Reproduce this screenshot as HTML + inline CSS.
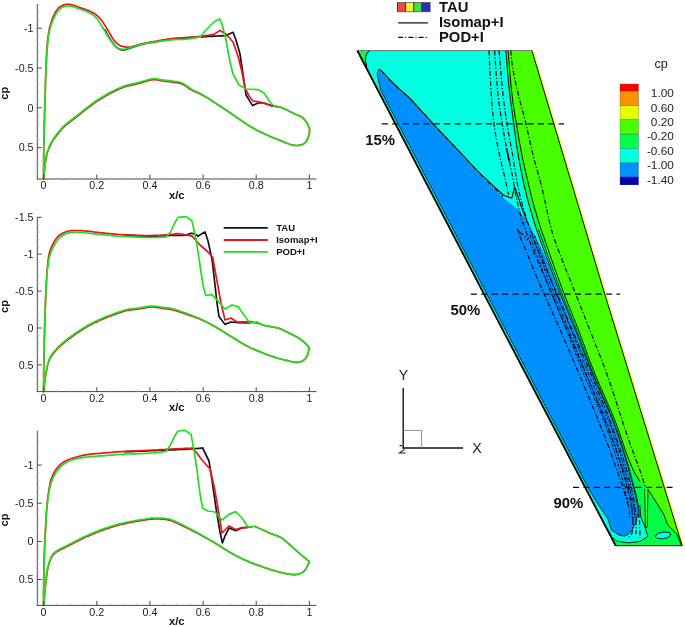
<!DOCTYPE html>
<html><head><meta charset="utf-8"><title>cp</title>
<style>html,body{margin:0;padding:0;background:#fff;}svg{display:block;will-change:transform;}text{font-family:"Liberation Sans",sans-serif;}</style>
</head><body>
<svg width="685" height="627" viewBox="0 0 685 627">
<polyline points="105.0,30.0 105.5,30.8 106.1,32.0 106.8,33.3 107.6,34.8 108.5,36.4 109.4,37.9 110.2,39.3 111.0,40.5 111.8,41.6 112.5,42.6 113.2,43.6 114.0,44.5 114.8,45.4 115.5,46.1 116.2,46.9 117.0,47.5 117.7,48.1 118.5,48.6 119.2,49.0 119.9,49.3 120.6,49.6 121.4,49.8 122.2,49.9 123.0,50.0 123.9,50.0 124.8,49.8 125.7,49.6 126.6,49.3 127.6,48.9 128.7,48.6 129.8,48.2 131.0,47.8 132.3,47.4 133.7,46.9 135.2,46.4 136.8,45.9 138.3,45.4 139.9,44.9 141.5,44.4 143.0,44.0 144.5,43.7 145.9,43.4 147.3,43.2 148.7,42.9 150.1,42.7 151.6,42.5 153.3,42.3 155.0,42.0 156.8,41.7 158.6,41.3 160.5,41.0 162.5,40.6 164.6,40.2 166.9,39.9 169.3,39.5 172.0,39.2 175.1,38.9 178.6,38.6 182.3,38.3 186.2,38.0 190.0,37.7 193.7,37.4 197.1,37.2 200.0,37.0 202.4,36.8 204.5,36.7 206.4,36.6 208.0,36.5 209.5,36.4 211.0,36.4 212.4,36.3 214.0,36.2 215.7,36.1 217.4,36.0 219.2,35.9 220.9,35.9 222.5,35.8 223.9,35.7 225.1,35.6 226.0,35.6" fill="none" stroke="#141414" stroke-width="1.7" stroke-linejoin="round" stroke-linecap="round" />
<polyline points="226.0,35.6 233.0,32.3 236.0,40.0 240.0,54.0 243.0,74.0 245.0,88.0 246.0,95.0 252.6,105.6 258.0,103.0 264.0,103.0 272.0,105.8 280.0,107.0" fill="none" stroke="#141414" stroke-width="1.7" stroke-linejoin="round" stroke-linecap="round" />
<polyline points="43.6,178.0 43.6,175.8 43.6,172.9 43.6,169.4 43.7,165.6 43.7,161.5 43.7,157.4 43.8,153.5 43.8,150.0 43.8,146.7 43.9,143.5 44.0,140.4 44.0,137.3 44.1,134.2 44.2,131.2 44.2,128.1 44.3,125.0 44.4,121.9 44.5,118.7 44.5,115.6 44.6,112.4 44.7,109.3 44.8,106.2 44.9,103.1 45.0,100.0 45.1,96.9 45.2,93.9 45.3,90.8 45.3,87.8 45.4,84.8 45.5,81.8 45.6,78.9 45.7,76.0 45.8,73.1 45.9,70.2 46.0,67.3 46.1,64.5 46.2,61.7 46.3,59.0 46.5,56.4 46.6,54.0 46.7,51.7 46.9,49.5 47.0,47.4 47.2,45.4 47.3,43.4 47.5,41.6 47.7,39.8 47.9,38.0 48.1,36.3 48.4,34.7 48.6,33.1 48.9,31.7 49.1,30.2 49.4,28.8 49.7,27.4 50.1,26.0 50.5,24.6 50.9,23.2 51.3,21.8 51.8,20.5 52.3,19.2 52.8,17.9 53.3,16.7 53.8,15.5 54.3,14.4 54.9,13.3 55.4,12.3 56.0,11.3 56.6,10.4 57.3,9.5 57.9,8.7 58.6,8.0 59.3,7.4 60.1,6.8 60.9,6.3 61.7,5.8 62.5,5.4 63.3,5.1 64.2,4.8 65.0,4.6 65.8,4.4 66.7,4.3 67.5,4.3 68.4,4.3 69.3,4.4 70.2,4.5 71.1,4.6 72.0,4.8 73.0,5.0 73.9,5.3 74.9,5.7 75.9,6.0 77.0,6.4 78.0,6.8 79.0,7.2 80.0,7.6 81.0,7.9 82.0,8.3 83.0,8.6 84.0,8.9 85.0,9.3 86.0,9.6 87.0,10.0 88.0,10.4 89.0,10.8 89.9,11.3 90.9,11.7 91.9,12.2 92.8,12.7 93.8,13.3 94.6,13.8 95.5,14.4 96.3,15.0 97.1,15.6 97.8,16.2 98.5,16.8 99.1,17.5 99.8,18.3 100.6,19.1 101.3,20.0 102.1,21.0 102.9,22.2 103.7,23.4 104.5,24.7 105.4,26.1 106.2,27.4 107.0,28.7 107.8,30.0 108.6,31.3 109.3,32.6 110.1,34.0 110.8,35.3 111.6,36.6 112.3,37.8 113.1,39.0 113.8,40.0 114.5,40.9 115.3,41.7 116.0,42.5 116.7,43.1 117.4,43.7 118.1,44.3 118.9,44.7 119.6,45.2 120.3,45.6 121.1,45.9 121.8,46.2 122.6,46.4 123.3,46.6 124.1,46.8 124.8,46.9 125.5,47.0 126.2,47.1 126.8,47.2 127.3,47.2 127.9,47.2 128.5,47.2 129.2,47.1 130.0,47.0 131.0,46.8 132.2,46.5 133.5,46.2 135.0,45.8 136.6,45.3 138.2,44.9 139.8,44.4 141.5,44.0 143.0,43.6 144.5,43.3 145.9,43.0 147.3,42.7 148.7,42.5 150.1,42.2 151.6,42.0 153.3,41.7 155.0,41.4 156.9,41.1 158.9,40.7 161.1,40.3 163.2,39.9 165.5,39.6 167.7,39.2 169.9,38.9 172.0,38.6 174.1,38.4 176.2,38.2 178.2,38.0 180.3,37.9 182.3,37.8 184.3,37.6 186.2,37.5 188.0,37.4 189.7,37.3 191.2,37.2 192.7,37.1 194.1,36.9 195.5,36.8 197.0,36.7 198.4,36.6 200.0,36.4 201.8,36.2 203.7,35.9 205.7,35.6 207.8,35.3 209.7,35.0 211.4,34.8 212.9,34.6 214.0,34.4" fill="none" stroke="#ea1420" stroke-width="1.7" stroke-linejoin="round" stroke-linecap="round" />
<polyline points="214.0,34.4 220.0,30.4 226.0,34.0 233.0,42.0 238.0,56.0 242.0,72.0 245.0,88.0 249.0,96.0 253.0,101.0 260.0,102.0 266.0,104.0 272.0,106.0 280.0,107.0" fill="none" stroke="#ea1420" stroke-width="1.7" stroke-linejoin="round" stroke-linecap="round" />
<polyline points="280.0,107.0 280.4,107.1 280.8,107.3 281.3,107.5 281.9,107.7 282.5,107.9 283.3,108.2 284.1,108.6 285.0,109.0 286.0,109.5 287.2,110.1 288.5,110.7 289.8,111.4 291.2,112.1 292.5,112.8 293.8,113.4 295.0,114.0 296.1,114.5 297.2,115.0 298.3,115.4 299.3,115.9 300.3,116.3 301.3,116.8 302.2,117.4 303.0,118.0 303.8,118.7 304.5,119.6 305.2,120.5 305.9,121.4 306.5,122.3 307.1,123.3 307.6,124.2 308.0,125.0 308.4,125.8 308.7,126.5 309.0,127.1 309.2,127.8 309.4,128.4 309.5,129.1 309.6,129.8 309.6,130.6 309.6,131.5 309.5,132.4 309.3,133.3 309.2,134.3 308.9,135.3 308.6,136.2 308.3,137.1 308.0,138.0 307.6,138.8 307.2,139.6 306.8,140.4 306.3,141.2 305.8,141.9 305.2,142.5 304.6,143.1 304.0,143.6 303.4,144.0 302.7,144.4 301.9,144.7 301.2,144.9 300.4,145.1 299.6,145.2 298.8,145.3 298.0,145.4 297.2,145.5 296.4,145.5 295.7,145.5 294.9,145.4 294.0,145.3 293.1,145.1 292.1,144.9 291.0,144.6 289.7,144.2 288.4,143.7 286.9,143.2 285.3,142.6 283.7,141.9 282.1,141.3 280.5,140.6 279.0,140.0 277.5,139.4 276.0,138.8 274.6,138.2 273.1,137.7 271.6,137.0 270.1,136.4 268.6,135.7 267.0,135.0 265.3,134.2 263.6,133.4 261.9,132.6 260.1,131.8 258.3,130.9 256.5,129.9 254.8,129.0 253.0,128.0 251.3,127.0 249.5,125.9 247.8,124.9 246.1,123.8 244.4,122.6 242.6,121.4 240.8,120.2 239.0,119.0 237.1,117.7 235.2,116.4 233.3,115.1 231.4,113.7 229.4,112.3 227.3,110.9 225.2,109.5 223.0,108.0 220.6,106.5 218.1,104.8 215.4,103.1 212.7,101.3 210.0,99.6 207.5,98.1 205.1,96.6 203.0,95.4 201.2,94.4 199.6,93.6 198.2,93.0 196.9,92.4 195.7,91.9 194.5,91.5 193.3,90.9 192.0,90.3 190.7,89.5 189.4,88.7 188.2,87.8 186.9,86.9 185.7,86.1 184.5,85.3 183.2,84.6 182.0,84.0 180.7,83.5 179.5,83.2 178.2,82.9 176.9,82.7 175.7,82.5 174.4,82.3 173.2,82.2 172.0,82.0 170.8,81.8 169.7,81.7 168.6,81.6 167.5,81.5 166.4,81.4 165.3,81.3 164.2,81.1 163.0,81.0 161.8,80.8 160.7,80.6 159.5,80.3 158.3,80.0 157.1,79.8 155.8,79.6 154.4,79.5 153.0,79.6 151.4,79.8 149.8,80.2 148.0,80.7 146.2,81.2 144.4,81.8 142.6,82.4 140.8,82.9 139.0,83.4 137.2,83.8 135.4,84.3 133.6,84.7 131.8,85.1 130.0,85.5 128.2,85.9 126.6,86.3 125.0,86.8 123.6,87.3 122.3,87.7 121.0,88.2 119.9,88.7 118.7,89.2 117.5,89.8 116.3,90.4 115.0,91.0 113.6,91.7 112.1,92.5 110.6,93.3 109.0,94.1 107.4,95.0 105.9,95.8 104.4,96.7 103.0,97.5 101.7,98.3 100.5,99.0 99.3,99.7 98.1,100.5 97.0,101.2 95.7,102.1 94.4,103.0 93.0,104.0 91.4,105.2 89.8,106.4 88.0,107.8 86.2,109.2 84.4,110.7 82.6,112.1 80.8,113.6 79.0,115.0 77.2,116.4 75.4,117.8 73.5,119.2 71.6,120.6 69.8,122.0 68.1,123.4 66.5,124.7 65.0,126.0 63.7,127.2 62.5,128.4 61.5,129.5 60.5,130.6 59.6,131.7 58.7,132.8 57.9,133.9 57.0,135.0 56.1,136.1 55.3,137.2 54.5,138.3 53.8,139.4 53.0,140.6 52.3,141.7 51.6,142.8 51.0,144.0 50.4,145.2 49.8,146.4 49.3,147.6 48.8,148.8 48.3,150.1 47.8,151.3 47.4,152.6 47.0,154.0 46.7,155.4 46.3,156.8 46.1,158.3 45.8,159.8 45.6,161.3 45.4,162.9 45.2,164.4 45.0,166.0 44.8,167.7 44.6,169.5 44.4,171.4 44.2,173.2 44.0,175.0 43.8,176.6 43.7,178.0 43.6,179.0" fill="none" stroke="#ea1420" stroke-width="1.7" stroke-linejoin="round" stroke-linecap="round" />
<polyline points="43.6,178.0 43.6,175.8 43.6,172.9 43.6,169.4 43.7,165.6 43.7,161.5 43.7,157.4 43.8,153.5 43.8,150.0 43.8,146.7 43.9,143.5 44.0,140.4 44.0,137.3 44.1,134.2 44.2,131.2 44.2,128.1 44.3,125.0 44.4,121.9 44.5,118.7 44.5,115.6 44.6,112.4 44.7,109.3 44.8,106.2 44.9,103.1 45.0,100.0 45.1,96.9 45.2,93.9 45.3,90.8 45.4,87.8 45.5,84.8 45.6,81.8 45.7,78.9 45.8,76.0 45.9,73.1 46.0,70.2 46.2,67.3 46.3,64.5 46.5,61.7 46.6,59.0 46.7,56.4 46.9,54.0 47.1,51.7 47.2,49.5 47.4,47.4 47.5,45.4 47.7,43.4 47.9,41.6 48.1,39.8 48.3,38.0 48.5,36.3 48.8,34.7 49.1,33.1 49.4,31.6 49.7,30.2 50.0,28.8 50.4,27.4 50.8,26.0 51.2,24.6 51.7,23.3 52.2,22.0 52.7,20.8 53.2,19.6 53.7,18.4 54.3,17.3 54.8,16.2 55.4,15.2 55.9,14.2 56.5,13.2 57.1,12.3 57.7,11.5 58.3,10.7 59.0,10.0 59.6,9.3 60.2,8.7 60.9,8.2 61.6,7.8 62.2,7.4 62.9,7.1 63.6,6.8 64.3,6.6 65.0,6.4 65.7,6.2 66.4,6.1 67.1,6.0 67.8,6.0 68.6,6.0 69.3,6.0 70.2,6.1 71.0,6.2 71.9,6.4 72.9,6.6 73.9,7.0 74.9,7.3 75.9,7.7 77.0,8.1 78.0,8.4 79.0,8.8 80.0,9.1 81.0,9.5 82.1,9.8 83.1,10.1 84.1,10.5 85.1,10.8 86.1,11.2 87.0,11.6 87.9,12.0 88.8,12.5 89.6,12.9 90.5,13.4 91.3,13.8 92.0,14.3 92.8,14.9 93.5,15.4 94.2,15.9 94.8,16.5 95.3,17.0 95.9,17.5 96.4,18.1 97.0,18.8 97.6,19.5 98.2,20.4 98.9,21.4 99.6,22.5 100.4,23.6 101.1,24.9 101.9,26.2 102.7,27.5 103.4,28.7 104.2,30.0 105.0,31.3 105.7,32.5 106.5,33.9 107.2,35.2 108.0,36.5 108.8,37.7 109.5,38.9 110.3,40.0 111.1,41.1 111.8,42.1 112.6,43.1 113.4,44.0 114.1,44.9 114.9,45.7 115.7,46.4 116.5,47.0 117.3,47.5 118.1,48.0 118.8,48.4 119.6,48.7 120.4,49.0 121.3,49.1 122.1,49.2 123.0,49.3 123.9,49.3 124.8,49.2 125.7,49.0 126.7,48.7 127.6,48.4 128.7,48.1 129.8,47.7 131.0,47.4 132.3,47.0 133.7,46.6 135.2,46.2 136.8,45.7 138.3,45.2 139.9,44.8 141.5,44.4 143.0,44.0 144.5,43.7 145.9,43.4 147.3,43.2 148.7,42.9 150.1,42.7 151.6,42.5 153.3,42.2 155.0,42.0 156.9,41.7 158.9,41.4 161.1,41.1 163.2,40.8 165.5,40.5 167.7,40.3 169.9,40.0 172.0,39.8 174.1,39.6 176.2,39.5 178.2,39.5 180.3,39.4 182.3,39.3 184.3,39.3 186.2,39.1 188.0,39.0 189.8,38.8 191.6,38.5 193.3,38.2 195.0,38.0 196.6,37.7 197.9,37.4 199.1,37.2 200.0,37.0" fill="none" stroke="#1fe01f" stroke-width="1.7" stroke-linejoin="round" stroke-linecap="round" />
<polyline points="200.0,37.0 206.0,30.0 214.0,22.0 219.6,19.0 222.0,24.0 226.0,40.0 230.0,62.0 233.0,74.0 239.0,85.0 246.0,89.0 258.0,89.6 264.0,93.0 270.0,102.0 274.0,106.0 280.0,107.0" fill="none" stroke="#1fe01f" stroke-width="1.7" stroke-linejoin="round" stroke-linecap="round" />
<polyline points="280.0,107.0 280.4,107.1 280.8,107.3 281.3,107.5 281.9,107.7 282.5,107.9 283.3,108.2 284.1,108.6 285.0,109.0 286.0,109.5 287.2,110.1 288.5,110.7 289.8,111.4 291.2,112.1 292.5,112.8 293.8,113.4 295.0,114.0 296.1,114.5 297.2,115.0 298.3,115.4 299.3,115.9 300.3,116.3 301.3,116.8 302.2,117.4 303.0,118.0 303.8,118.7 304.5,119.6 305.2,120.5 305.9,121.4 306.5,122.3 307.1,123.3 307.6,124.2 308.0,125.0 308.4,125.8 308.7,126.5 309.0,127.1 309.2,127.8 309.4,128.4 309.5,129.1 309.6,129.8 309.6,130.6 309.6,131.5 309.5,132.4 309.3,133.3 309.2,134.3 308.9,135.3 308.6,136.2 308.3,137.1 308.0,138.0 307.6,138.8 307.2,139.6 306.8,140.4 306.3,141.2 305.8,141.9 305.2,142.5 304.6,143.1 304.0,143.6 303.4,144.0 302.7,144.4 301.9,144.7 301.2,144.9 300.4,145.1 299.6,145.2 298.8,145.3 298.0,145.4 297.2,145.5 296.4,145.5 295.7,145.5 294.9,145.4 294.0,145.3 293.1,145.1 292.1,144.9 291.0,144.6 289.7,144.2 288.4,143.7 286.9,143.2 285.3,142.6 283.7,141.9 282.1,141.3 280.5,140.6 279.0,140.0 277.5,139.4 276.0,138.8 274.6,138.2 273.1,137.7 271.6,137.0 270.1,136.4 268.6,135.7 267.0,135.0 265.3,134.2 263.6,133.4 261.9,132.6 260.1,131.8 258.3,130.9 256.5,129.9 254.8,129.0 253.0,128.0 251.3,127.0 249.5,125.9 247.8,124.9 246.1,123.8 244.4,122.6 242.6,121.4 240.8,120.2 239.0,119.0 237.1,117.7 235.2,116.4 233.3,115.1 231.4,113.8 229.4,112.4 227.3,110.9 225.2,109.5 223.0,108.0 220.6,106.4 218.1,104.7 215.4,102.9 212.7,101.2 210.0,99.4 207.5,97.8 205.1,96.3 203.0,95.0 201.2,94.0 199.6,93.1 198.2,92.4 196.9,91.8 195.7,91.3 194.5,90.8 193.3,90.2 192.0,89.5 190.7,88.7 189.4,87.8 188.2,86.9 186.9,86.0 185.7,85.2 184.5,84.3 183.2,83.6 182.0,83.0 180.7,82.5 179.5,82.2 178.2,81.9 176.9,81.7 175.7,81.5 174.4,81.3 173.2,81.2 172.0,81.0 170.8,80.8 169.7,80.7 168.6,80.6 167.5,80.5 166.4,80.4 165.3,80.3 164.2,80.1 163.0,80.0 161.8,79.8 160.7,79.6 159.5,79.3 158.3,79.0 157.1,78.8 155.8,78.6 154.4,78.5 153.0,78.6 151.4,78.8 149.8,79.2 148.0,79.7 146.2,80.2 144.4,80.8 142.6,81.4 140.8,81.9 139.0,82.4 137.2,82.8 135.4,83.3 133.6,83.7 131.8,84.1 130.0,84.5 128.2,84.9 126.6,85.3 125.0,85.8 123.6,86.3 122.3,86.7 121.0,87.2 119.9,87.7 118.7,88.2 117.5,88.8 116.3,89.4 115.0,90.0 113.6,90.7 112.1,91.5 110.6,92.3 109.0,93.1 107.4,94.0 105.9,94.8 104.4,95.7 103.0,96.5 101.7,97.3 100.5,98.0 99.3,98.7 98.1,99.5 97.0,100.2 95.7,101.1 94.4,102.0 93.0,103.0 91.4,104.2 89.8,105.4 88.0,106.8 86.2,108.2 84.4,109.7 82.6,111.1 80.8,112.6 79.0,114.0 77.2,115.4 75.4,116.8 73.5,118.2 71.6,119.6 69.8,121.0 68.1,122.4 66.5,123.7 65.0,125.0 63.7,126.2 62.5,127.4 61.5,128.5 60.5,129.6 59.6,130.7 58.7,131.8 57.9,132.9 57.0,134.0 56.1,135.1 55.3,136.2 54.5,137.3 53.8,138.4 53.0,139.6 52.3,140.7 51.6,141.8 51.0,143.0 50.4,144.2 49.8,145.4 49.3,146.6 48.8,147.8 48.3,149.1 47.8,150.3 47.4,151.6 47.0,153.0 46.7,154.4 46.3,155.8 46.1,157.3 45.8,158.8 45.6,160.3 45.4,161.9 45.2,163.4 45.0,165.0 44.8,166.7 44.6,168.5 44.4,170.4 44.2,172.2 44.0,174.0 43.8,175.6 43.7,177.0 43.6,178.0" fill="none" stroke="#1fe01f" stroke-width="1.7" stroke-linejoin="round" stroke-linecap="round" />
<polyline points="125.0,235.3 127.0,235.4 129.8,235.5 133.1,235.6 136.7,235.8 140.5,235.9 144.2,236.1 147.8,236.2 151.0,236.2 153.9,236.2 156.8,236.1 159.6,236.0 162.4,235.9 165.0,235.7 167.5,235.6 169.8,235.5 172.0,235.4 174.0,235.4 175.7,235.4 177.3,235.4 178.8,235.5 180.2,235.5 181.5,235.5 182.8,235.5 184.0,235.4 185.2,235.2 186.3,234.9 187.4,234.6 188.4,234.2 189.3,233.9 190.2,233.6 191.1,233.4 192.0,233.4 192.9,233.5 193.8,233.8 194.7,234.2 195.5,234.6 196.3,235.0 197.0,235.4 197.6,235.8 198.0,236.0" fill="none" stroke="#141414" stroke-width="1.7" stroke-linejoin="round" stroke-linecap="round" />
<polyline points="198.0,236.0 205.0,232.0 208.0,241.0 212.0,259.0 215.0,285.0 217.0,303.0 219.0,316.6 225.0,324.4 231.0,322.0 238.0,322.6 250.0,323.0" fill="none" stroke="#141414" stroke-width="1.7" stroke-linejoin="round" stroke-linecap="round" />
<polyline points="43.6,391.0 43.6,388.6 43.6,385.4 43.7,381.6 43.7,377.4 43.7,372.9 43.8,368.4 43.8,364.0 43.9,360.0 44.0,356.3 44.0,352.6 44.1,349.1 44.2,345.5 44.3,341.9 44.4,338.1 44.5,334.2 44.6,330.0 44.7,325.5 44.9,320.6 45.0,315.5 45.2,310.2 45.4,305.1 45.5,300.0 45.7,295.3 45.9,291.0 46.1,287.0 46.3,283.3 46.5,279.7 46.7,276.4 46.9,273.2 47.1,270.3 47.4,267.5 47.6,265.0 47.8,262.7 48.1,260.8 48.3,259.0 48.5,257.5 48.7,256.0 49.0,254.7 49.3,253.4 49.7,252.0 50.1,250.6 50.6,249.3 51.1,248.1 51.6,246.9 52.1,245.7 52.7,244.6 53.2,243.5 53.8,242.5 54.4,241.5 54.9,240.6 55.5,239.7 56.1,238.8 56.7,238.0 57.4,237.2 58.1,236.5 58.8,235.8 59.6,235.2 60.4,234.5 61.3,234.0 62.2,233.5 63.1,233.0 64.1,232.5 65.0,232.2 66.0,231.8 66.9,231.5 67.9,231.2 68.8,231.0 69.8,230.9 70.7,230.7 71.8,230.6 72.9,230.6 74.0,230.5 75.2,230.5 76.3,230.5 77.5,230.5 78.8,230.5 80.1,230.6 81.5,230.7 83.2,230.8 85.0,231.0 87.1,231.2 89.4,231.4 91.8,231.7 94.4,232.0 97.1,232.3 99.8,232.7 102.4,232.9 105.0,233.2 107.5,233.4 109.9,233.7 112.2,233.9 114.6,234.1 117.1,234.3 119.6,234.5 122.2,234.6 125.0,234.8 128.0,234.9 131.2,235.1 134.5,235.2 137.9,235.3 141.4,235.4 144.7,235.5 147.9,235.5 151.0,235.5 154.0,235.4 157.0,235.3 159.9,235.2 162.8,235.0 165.4,234.9 167.9,234.7 170.1,234.5 172.0,234.4 173.4,234.3 174.4,234.1 175.0,233.9 175.4,233.8 175.8,233.7 176.3,233.6 177.0,233.5 178.0,233.6 179.5,233.8 181.3,234.0 183.3,234.4 185.4,234.8 187.4,235.1 189.3,235.5 190.9,235.8 192.0,236.0" fill="none" stroke="#ea1420" stroke-width="1.7" stroke-linejoin="round" stroke-linecap="round" />
<polyline points="192.0,236.0 200.0,245.0 208.0,252.0 212.6,257.0 217.0,281.0 221.0,303.0 225.0,320.0 231.0,318.0 237.0,322.0 250.0,321.6 258.0,323.4" fill="none" stroke="#ea1420" stroke-width="1.7" stroke-linejoin="round" stroke-linecap="round" />
<polyline points="257.0,322.2 257.4,322.4 258.0,322.7 258.6,323.1 259.4,323.5 260.2,323.9 261.1,324.3 262.0,324.7 263.0,325.0 264.1,325.3 265.3,325.6 266.5,325.8 267.9,326.1 269.2,326.3 270.5,326.5 271.8,326.8 273.0,327.0 274.1,327.2 275.1,327.5 276.1,327.7 277.1,327.9 278.1,328.1 279.0,328.4 280.0,328.7 281.0,329.0 282.0,329.4 283.0,329.9 284.0,330.4 285.0,330.9 286.0,331.4 287.0,332.0 288.0,332.5 289.0,333.0 290.0,333.5 291.0,334.0 292.0,334.4 293.0,334.9 294.0,335.4 295.0,335.9 296.0,336.4 297.0,337.0 298.0,337.7 299.1,338.4 300.2,339.1 301.2,339.9 302.3,340.7 303.3,341.5 304.2,342.3 305.0,343.0 305.8,343.7 306.5,344.4 307.1,345.2 307.7,345.9 308.2,346.5 308.7,347.1 309.1,347.6 309.4,348.0 309.4,348.0 309.2,348.6 309.0,349.5 308.7,350.6 308.4,351.7 308.1,352.9 307.8,354.1 307.4,355.1 307.0,356.0 306.6,356.8 306.2,357.5 305.7,358.1 305.2,358.7 304.7,359.2 304.2,359.7 303.6,360.2 303.0,360.6 302.4,361.0 301.7,361.3 301.0,361.6 300.2,361.9 299.5,362.1 298.7,362.2 297.9,362.3 297.0,362.4 296.1,362.4 295.2,362.3 294.3,362.2 293.4,362.0 292.4,361.8 291.3,361.5 290.2,361.3 289.0,361.0 287.7,360.7 286.3,360.4 284.9,360.1 283.4,359.7 281.8,359.3 280.2,358.9 278.6,358.5 277.0,358.0 275.3,357.5 273.6,356.9 271.9,356.3 270.1,355.7 268.3,355.0 266.5,354.4 264.8,353.7 263.0,353.0 261.2,352.3 259.5,351.6 257.8,350.9 256.0,350.2 254.2,349.4 252.5,348.7 250.8,347.9 249.0,347.0 247.3,346.1 245.5,345.2 243.8,344.2 242.1,343.2 240.4,342.2 238.6,341.2 236.8,340.1 235.0,339.0 233.1,337.8 231.1,336.6 229.1,335.3 227.1,334.0 225.1,332.7 223.0,331.4 221.0,330.2 219.0,329.0 217.0,327.8 214.9,326.6 212.8,325.5 210.7,324.3 208.6,323.2 206.6,322.2 204.8,321.3 203.0,320.4 201.4,319.7 199.9,319.1 198.6,318.5 197.2,318.1 196.0,317.6 194.7,317.2 193.4,316.8 192.0,316.3 190.5,315.7 189.0,315.2 187.4,314.6 185.8,314.0 184.3,313.5 182.7,312.9 181.3,312.4 180.0,312.0 178.8,311.6 177.7,311.2 176.8,310.9 175.8,310.6 174.9,310.3 174.0,310.1 173.0,309.8 172.0,309.6 170.9,309.4 169.9,309.2 168.8,309.1 167.8,308.9 166.6,308.8 165.5,308.7 164.3,308.6 163.0,308.4 161.6,308.2 160.2,308.0 158.7,307.7 157.2,307.5 155.6,307.3 154.1,307.1 152.5,307.0 151.0,307.0 149.5,307.1 148.0,307.3 146.6,307.5 145.1,307.8 143.6,308.1 142.1,308.4 140.6,308.7 139.0,309.0 137.4,309.2 135.8,309.4 134.2,309.5 132.6,309.6 130.9,309.8 129.1,310.1 127.1,310.5 125.0,311.0 122.6,311.7 120.0,312.6 117.2,313.5 114.2,314.6 111.3,315.7 108.4,316.8 105.6,317.9 103.0,319.0 100.6,320.0 98.3,321.1 96.0,322.1 93.9,323.1 91.7,324.2 89.5,325.4 87.3,326.6 85.0,328.0 82.5,329.5 80.0,331.2 77.3,333.0 74.6,334.8 72.0,336.7 69.5,338.5 67.1,340.3 65.0,342.0 63.1,343.6 61.3,345.2 59.6,346.7 58.1,348.2 56.6,349.7 55.3,351.2 54.1,352.6 53.0,354.0 52.0,355.3 51.2,356.5 50.5,357.6 49.9,358.8 49.4,359.9 48.9,361.1 48.5,362.5 48.0,364.0 47.5,365.7 47.1,367.7 46.7,369.7 46.3,371.9 45.9,374.0 45.6,376.1 45.3,378.2 45.0,380.0 44.7,381.8 44.5,383.6 44.3,385.3 44.1,387.0 44.0,388.6 43.8,389.9 43.7,391.1 43.6,392.0" fill="none" stroke="#ea1420" stroke-width="1.7" stroke-linejoin="round" stroke-linecap="round" />
<polyline points="43.6,391.0 43.6,388.6 43.6,385.4 43.7,381.6 43.7,377.4 43.7,372.9 43.8,368.4 43.8,364.0 43.9,360.0 44.0,356.3 44.0,352.6 44.1,349.1 44.2,345.5 44.3,341.9 44.4,338.1 44.5,334.2 44.6,330.0 44.7,325.5 44.9,320.6 45.0,315.5 45.2,310.2 45.4,305.1 45.6,300.0 45.8,295.3 46.0,291.0 46.2,287.0 46.4,283.3 46.7,279.7 46.9,276.3 47.2,273.2 47.4,270.2 47.7,267.5 48.0,265.0 48.3,262.8 48.6,260.9 48.9,259.3 49.2,257.9 49.5,256.7 49.8,255.5 50.2,254.3 50.6,253.0 51.1,251.7 51.6,250.5 52.1,249.3 52.7,248.2 53.2,247.1 53.8,246.0 54.4,245.0 55.0,244.0 55.6,243.1 56.2,242.1 56.8,241.3 57.4,240.4 58.0,239.6 58.6,238.9 59.3,238.2 60.0,237.5 60.7,236.9 61.5,236.3 62.3,235.7 63.1,235.2 63.9,234.7 64.8,234.3 65.6,233.9 66.5,233.5 67.4,233.2 68.2,232.9 69.1,232.7 70.0,232.6 70.9,232.4 71.9,232.3 72.9,232.3 74.0,232.2 75.1,232.2 76.3,232.2 77.5,232.2 78.7,232.3 80.1,232.4 81.5,232.5 83.2,232.6 85.0,232.8 87.1,233.0 89.4,233.3 91.8,233.5 94.4,233.8 97.1,234.2 99.8,234.5 102.4,234.7 105.0,235.0 107.5,235.2 109.9,235.4 112.2,235.6 114.6,235.8 117.1,236.0 119.6,236.2 122.2,236.3 125.0,236.5 128.0,236.7 131.3,236.8 134.8,237.0 138.3,237.1 141.8,237.3 145.1,237.4 148.2,237.5 151.0,237.5 153.5,237.5 155.9,237.5 158.1,237.4 160.1,237.3 162.0,237.2 163.6,237.1 164.9,237.0 166.0,237.0" fill="none" stroke="#1fe01f" stroke-width="1.7" stroke-linejoin="round" stroke-linecap="round" />
<polyline points="166.0,237.0 170.5,232.0 174.5,223.5 178.0,217.4 186.0,216.6 192.0,221.0 196.0,239.0 200.0,265.0 203.0,285.0 205.6,295.4 212.0,294.6 218.0,301.0 225.0,309.0 232.0,305.0 238.0,306.6 244.0,315.0 250.0,323.0 257.0,322.2" fill="none" stroke="#1fe01f" stroke-width="1.7" stroke-linejoin="round" stroke-linecap="round" />
<polyline points="257.0,322.2 257.4,322.4 258.0,322.7 258.6,323.1 259.4,323.5 260.2,323.9 261.1,324.3 262.0,324.7 263.0,325.0 264.1,325.3 265.3,325.6 266.5,325.8 267.9,326.1 269.2,326.3 270.5,326.5 271.8,326.8 273.0,327.0 274.1,327.2 275.1,327.5 276.1,327.7 277.1,327.9 278.1,328.1 279.0,328.4 280.0,328.7 281.0,329.0 282.0,329.4 283.0,329.9 284.0,330.4 285.0,330.9 286.0,331.4 287.0,332.0 288.0,332.5 289.0,333.0 290.0,333.5 291.0,334.0 292.0,334.4 293.0,334.9 294.0,335.4 295.0,335.9 296.0,336.4 297.0,337.0 298.0,337.7 299.1,338.4 300.2,339.1 301.2,339.9 302.3,340.7 303.3,341.5 304.2,342.3 305.0,343.0 305.8,343.7 306.5,344.4 307.1,345.2 307.7,345.9 308.2,346.5 308.7,347.1 309.1,347.6 309.4,348.0 309.4,348.0 309.2,348.6 309.0,349.5 308.7,350.6 308.4,351.7 308.1,352.9 307.8,354.1 307.4,355.1 307.0,356.0 306.6,356.8 306.2,357.5 305.7,358.1 305.2,358.7 304.7,359.2 304.2,359.7 303.6,360.2 303.0,360.6 302.4,361.0 301.7,361.3 301.0,361.6 300.2,361.9 299.5,362.1 298.7,362.2 297.9,362.3 297.0,362.4 296.1,362.4 295.2,362.3 294.3,362.2 293.4,362.0 292.4,361.8 291.3,361.5 290.2,361.3 289.0,361.0 287.7,360.7 286.3,360.4 284.9,360.1 283.4,359.7 281.8,359.3 280.2,358.9 278.6,358.5 277.0,358.0 275.3,357.5 273.6,356.9 271.9,356.3 270.1,355.7 268.3,355.0 266.5,354.4 264.8,353.7 263.0,353.0 261.2,352.3 259.5,351.6 257.8,350.9 256.0,350.2 254.2,349.4 252.5,348.7 250.8,347.9 249.0,347.0 247.3,346.1 245.5,345.2 243.8,344.2 242.1,343.2 240.4,342.2 238.6,341.2 236.8,340.1 235.0,339.0 233.1,337.8 231.1,336.6 229.1,335.4 227.1,334.1 225.1,332.8 223.0,331.5 221.0,330.2 219.0,329.0 217.0,327.8 214.9,326.6 212.8,325.4 210.7,324.2 208.6,323.0 206.6,321.9 204.8,320.9 203.0,320.0 201.4,319.2 199.9,318.6 198.6,318.0 197.2,317.5 196.0,317.0 194.7,316.5 193.4,316.0 192.0,315.5 190.5,314.9 189.0,314.3 187.4,313.7 185.8,313.1 184.3,312.5 182.7,312.0 181.3,311.5 180.0,311.0 178.8,310.6 177.7,310.2 176.8,309.9 175.8,309.6 174.9,309.3 174.0,309.1 173.0,308.8 172.0,308.6 170.9,308.4 169.9,308.2 168.8,308.1 167.8,307.9 166.6,307.8 165.5,307.7 164.3,307.6 163.0,307.4 161.6,307.2 160.2,307.0 158.7,306.7 157.2,306.5 155.6,306.3 154.1,306.1 152.5,306.0 151.0,306.0 149.5,306.1 148.0,306.3 146.6,306.5 145.1,306.8 143.6,307.1 142.1,307.4 140.6,307.7 139.0,308.0 137.4,308.2 135.8,308.4 134.2,308.5 132.6,308.6 130.9,308.8 129.1,309.1 127.1,309.5 125.0,310.0 122.6,310.7 120.0,311.6 117.2,312.5 114.2,313.6 111.3,314.7 108.4,315.8 105.6,316.9 103.0,318.0 100.6,319.0 98.3,320.1 96.0,321.1 93.9,322.1 91.7,323.2 89.5,324.4 87.3,325.6 85.0,327.0 82.5,328.5 80.0,330.2 77.3,332.0 74.6,333.8 72.0,335.7 69.5,337.5 67.1,339.3 65.0,341.0 63.1,342.6 61.3,344.2 59.6,345.7 58.1,347.2 56.6,348.7 55.3,350.2 54.1,351.6 53.0,353.0 52.0,354.3 51.2,355.5 50.5,356.6 49.9,357.8 49.4,358.9 48.9,360.1 48.5,361.5 48.0,363.0 47.5,364.7 47.1,366.7 46.7,368.7 46.3,370.9 45.9,373.0 45.6,375.1 45.3,377.2 45.0,379.0 44.7,380.8 44.5,382.6 44.3,384.3 44.1,386.0 44.0,387.6 43.8,388.9 43.7,390.1 43.6,391.0" fill="none" stroke="#1fe01f" stroke-width="1.7" stroke-linejoin="round" stroke-linecap="round" />
<polyline points="125.0,451.8 127.4,451.7 130.7,451.6 134.6,451.4 138.9,451.2 143.4,451.1 147.7,450.9 151.7,450.7 155.0,450.6 157.7,450.5 160.1,450.4 162.2,450.3 164.1,450.2 166.0,450.2 167.8,450.1 169.8,450.0 172.0,449.9 174.4,449.8 177.0,449.7 179.7,449.5 182.4,449.4 185.1,449.3 187.6,449.1 189.9,449.0 192.0,448.9 193.8,448.8 195.6,448.6 197.1,448.5 198.6,448.4 199.8,448.3 200.9,448.2 201.8,448.1 202.6,448.0" fill="none" stroke="#141414" stroke-width="1.7" stroke-linejoin="round" stroke-linecap="round" />
<polyline points="202.6,448.0 209.0,461.0 212.0,480.0 216.0,508.0 220.0,532.0 222.4,543.0 225.0,536.0 229.0,528.0 235.6,530.6 242.0,528.0 248.0,527.4" fill="none" stroke="#141414" stroke-width="1.7" stroke-linejoin="round" stroke-linecap="round" />
<polyline points="43.6,604.5 43.6,602.2 43.6,599.2 43.6,595.6 43.6,591.6 43.7,587.4 43.7,583.1 43.7,578.9 43.8,575.0 43.9,571.3 44.0,567.7 44.0,564.0 44.1,560.3 44.3,556.6 44.4,552.9 44.5,549.0 44.7,545.0 44.9,540.8 45.1,536.3 45.3,531.6 45.6,526.9 45.8,522.3 46.1,517.8 46.3,513.7 46.6,510.0 46.9,506.7 47.2,503.7 47.4,500.9 47.7,498.3 48.0,496.0 48.3,493.7 48.7,491.6 49.0,489.5 49.3,487.5 49.7,485.7 50.0,484.1 50.3,482.5 50.7,481.1 51.1,479.7 51.5,478.3 52.0,477.0 52.5,475.7 53.1,474.4 53.7,473.3 54.3,472.1 55.0,471.0 55.7,470.0 56.4,469.0 57.2,468.0 58.0,467.1 58.8,466.1 59.6,465.3 60.5,464.4 61.4,463.6 62.4,462.9 63.4,462.2 64.5,461.5 65.6,460.9 66.9,460.3 68.1,459.8 69.5,459.3 70.8,458.8 72.2,458.4 73.6,457.9 75.0,457.5 76.4,457.1 77.8,456.7 79.1,456.3 80.5,455.9 82.0,455.6 83.5,455.2 85.2,454.9 87.0,454.6 88.9,454.3 91.0,454.1 93.2,453.9 95.5,453.7 97.8,453.5 100.2,453.3 102.6,453.1 105.0,452.9 107.3,452.7 109.6,452.5 111.9,452.3 114.2,452.1 116.7,451.9 119.2,451.8 122.0,451.6 125.0,451.4 128.4,451.2 132.1,451.0 136.1,450.9 140.2,450.7 144.3,450.5 148.2,450.3 151.8,450.2 155.0,450.0 157.7,449.9 160.1,449.7 162.2,449.6 164.1,449.5 166.0,449.3 167.8,449.2 169.8,449.1 172.0,449.0 174.5,448.9 177.3,448.8 180.2,448.7 183.1,448.5 185.8,448.4 188.3,448.3 190.4,448.3 192.0,448.2" fill="none" stroke="#ea1420" stroke-width="1.7" stroke-linejoin="round" stroke-linecap="round" />
<polyline points="192.0,448.2 196.0,452.0 202.0,460.0 210.0,469.0 214.0,486.0 218.0,508.0 222.0,533.0 229.0,526.0 235.6,529.6 242.0,527.6 252.0,527.0" fill="none" stroke="#ea1420" stroke-width="1.7" stroke-linejoin="round" stroke-linecap="round" />
<polyline points="255.0,526.4 255.6,526.7 256.4,527.0 257.4,527.5 258.5,528.0 259.6,528.5 260.8,529.0 261.9,529.5 263.0,530.0 264.0,530.4 265.0,530.9 265.9,531.3 266.9,531.8 267.9,532.2 268.9,532.7 269.9,533.1 271.0,533.6 272.2,534.1 273.4,534.5 274.7,535.0 276.0,535.4 277.3,535.9 278.6,536.4 279.8,537.0 281.0,537.6 282.1,538.3 283.1,539.0 284.1,539.7 285.0,540.5 285.9,541.3 286.9,542.2 287.9,543.1 289.0,544.0 290.2,545.0 291.4,546.1 292.6,547.2 293.8,548.4 295.1,549.5 296.4,550.7 297.7,551.9 299.0,553.0 300.4,554.2 301.8,555.4 303.3,556.6 304.8,557.9 306.2,559.0 307.5,560.1 308.6,560.9 309.4,561.6 309.4,561.6 309.2,562.1 308.9,562.7 308.6,563.5 308.2,564.3 307.8,565.2 307.4,566.1 307.0,566.9 306.6,567.6 306.2,568.2 305.8,568.9 305.4,569.5 305.0,570.0 304.6,570.6 304.1,571.1 303.6,571.6 303.0,572.0 302.4,572.4 301.7,572.8 300.9,573.2 300.1,573.5 299.4,573.8 298.6,574.0 297.8,574.2 297.0,574.4 296.3,574.5 295.6,574.6 295.0,574.7 294.4,574.7 293.7,574.7 292.9,574.6 292.0,574.5 291.0,574.4 289.8,574.2 288.5,574.0 287.1,573.8 285.6,573.5 284.1,573.2 282.4,572.8 280.7,572.4 279.0,572.0 277.2,571.5 275.3,571.0 273.3,570.4 271.2,569.7 269.2,569.1 267.1,568.4 265.0,567.7 263.0,567.0 261.0,566.3 259.0,565.6 257.0,564.9 255.0,564.2 253.0,563.4 251.0,562.7 249.0,561.9 247.0,561.0 245.0,560.1 243.0,559.2 241.0,558.2 239.0,557.2 237.0,556.2 235.0,555.2 233.0,554.1 231.0,553.0 229.0,551.8 227.0,550.6 225.0,549.3 223.0,548.1 221.0,546.8 219.0,545.5 217.0,544.2 215.0,543.0 213.0,541.8 211.0,540.7 209.0,539.6 207.0,538.4 205.0,537.4 203.0,536.3 201.0,535.2 199.0,534.1 197.0,533.1 194.9,532.0 192.8,530.9 190.7,529.8 188.6,528.8 186.6,527.8 184.8,526.9 183.0,526.0 181.4,525.2 179.8,524.4 178.3,523.7 176.9,523.1 175.6,522.5 174.4,521.9 173.1,521.4 172.0,521.0 171.0,520.6 170.0,520.3 169.2,520.1 168.4,519.9 167.7,519.8 166.9,519.6 166.0,519.5 165.0,519.4 163.9,519.3 162.7,519.2 161.5,519.1 160.2,519.0 158.9,519.0 157.6,519.0 156.3,519.0 155.0,519.0 153.8,519.0 152.7,519.1 151.7,519.2 150.6,519.2 149.5,519.4 148.2,519.5 146.7,519.7 145.0,520.0 143.0,520.3 140.7,520.7 138.2,521.1 135.6,521.5 132.9,522.0 130.2,522.5 127.5,523.0 125.0,523.6 122.6,524.2 120.2,524.8 117.8,525.4 115.5,526.0 113.2,526.7 110.8,527.4 108.4,528.2 106.0,529.0 103.5,529.9 101.0,530.8 98.5,531.8 95.9,532.8 93.4,533.8 90.9,534.9 88.4,535.9 86.0,537.0 83.6,538.1 81.2,539.2 78.9,540.4 76.6,541.6 74.3,542.7 72.1,543.9 70.0,545.0 68.0,546.0 66.1,547.0 64.2,547.9 62.4,548.7 60.7,549.6 59.1,550.4 57.6,551.2 56.2,552.1 55.0,553.0 54.0,553.9 53.1,554.8 52.5,555.8 51.9,556.7 51.4,557.7 50.9,558.7 50.5,559.8 50.0,561.0 49.5,562.3 49.1,563.6 48.7,564.9 48.3,566.4 48.0,567.9 47.6,569.5 47.3,571.2 47.0,573.0 46.7,575.0 46.4,577.2 46.2,579.5 45.9,581.8 45.7,584.2 45.4,586.6 45.2,588.9 45.0,591.0 44.8,593.1 44.6,595.2 44.4,597.3 44.2,599.4 44.0,601.3 43.8,603.0 43.7,604.4 43.6,605.5" fill="none" stroke="#ea1420" stroke-width="1.7" stroke-linejoin="round" stroke-linecap="round" />
<polyline points="43.6,604.5 43.6,602.2 43.6,599.2 43.6,595.6 43.6,591.6 43.7,587.4 43.7,583.1 43.7,578.9 43.8,575.0 43.9,571.3 44.0,567.7 44.1,564.0 44.2,560.3 44.3,556.6 44.5,552.9 44.6,549.0 44.8,545.0 45.0,540.8 45.2,536.2 45.5,531.6 45.7,526.9 46.0,522.2 46.2,517.8 46.5,513.7 46.8,510.0 47.1,506.7 47.4,503.7 47.7,501.0 48.0,498.5 48.3,496.2 48.7,494.1 49.0,492.0 49.4,490.0 49.8,488.1 50.1,486.5 50.5,485.0 50.9,483.6 51.3,482.3 51.8,481.0 52.3,479.8 52.8,478.5 53.4,477.2 54.0,476.0 54.6,474.8 55.3,473.7 55.9,472.6 56.7,471.5 57.4,470.5 58.2,469.5 59.0,468.6 59.8,467.6 60.7,466.8 61.6,465.9 62.5,465.1 63.4,464.4 64.4,463.7 65.5,463.0 66.6,462.4 67.8,461.8 69.0,461.2 70.2,460.7 71.5,460.2 72.8,459.8 74.2,459.4 75.5,459.0 76.8,458.7 78.1,458.3 79.4,458.1 80.8,457.8 82.1,457.6 83.6,457.4 85.2,457.2 87.0,457.0 88.9,456.8 91.0,456.6 93.2,456.4 95.5,456.3 97.8,456.1 100.2,455.9 102.6,455.8 105.0,455.6 107.3,455.4 109.7,455.2 112.0,455.1 114.4,454.9 116.8,454.7 119.4,454.5 122.1,454.4 125.0,454.2 128.2,454.0 131.8,453.9 135.6,453.8 139.4,453.6 143.2,453.5 146.9,453.3 150.2,453.2 153.0,453.0 155.4,452.8 157.6,452.6 159.5,452.4 161.2,452.1 162.7,451.9 164.0,451.7 165.1,451.5 166.0,451.4" fill="none" stroke="#1fe01f" stroke-width="1.7" stroke-linejoin="round" stroke-linecap="round" />
<polyline points="166.0,451.4 170.3,445.2 174.7,436.2 177.8,431.0 185.0,430.4 191.0,434.4 194.0,450.0 197.0,470.0 200.0,494.0 202.6,508.0 208.0,511.0 215.0,512.0 222.0,520.0 229.0,514.4 235.6,511.6 242.0,518.0 248.0,527.0 255.0,526.4" fill="none" stroke="#1fe01f" stroke-width="1.7" stroke-linejoin="round" stroke-linecap="round" />
<polyline points="255.0,526.4 255.6,526.7 256.4,527.0 257.4,527.5 258.5,528.0 259.6,528.5 260.8,529.0 261.9,529.5 263.0,530.0 264.0,530.4 265.0,530.9 265.9,531.3 266.9,531.8 267.9,532.2 268.9,532.7 269.9,533.1 271.0,533.6 272.2,534.1 273.4,534.5 274.7,535.0 276.0,535.4 277.3,535.9 278.6,536.4 279.8,537.0 281.0,537.6 282.1,538.3 283.1,539.0 284.1,539.7 285.0,540.5 285.9,541.3 286.9,542.2 287.9,543.1 289.0,544.0 290.2,545.0 291.4,546.1 292.6,547.2 293.8,548.4 295.1,549.5 296.4,550.7 297.7,551.9 299.0,553.0 300.4,554.2 301.8,555.4 303.3,556.6 304.8,557.9 306.2,559.0 307.5,560.1 308.6,560.9 309.4,561.6 309.4,561.6 309.2,562.1 308.9,562.7 308.6,563.5 308.2,564.3 307.8,565.2 307.4,566.1 307.0,566.9 306.6,567.6 306.2,568.2 305.8,568.9 305.4,569.5 305.0,570.0 304.6,570.6 304.1,571.1 303.6,571.6 303.0,572.0 302.4,572.4 301.7,572.8 300.9,573.2 300.1,573.5 299.4,573.8 298.6,574.0 297.8,574.2 297.0,574.4 296.3,574.5 295.6,574.6 295.0,574.7 294.4,574.7 293.7,574.7 292.9,574.6 292.0,574.5 291.0,574.4 289.8,574.2 288.5,574.0 287.1,573.8 285.6,573.5 284.1,573.2 282.4,572.8 280.7,572.4 279.0,572.0 277.2,571.5 275.3,571.0 273.3,570.4 271.2,569.7 269.2,569.1 267.1,568.4 265.0,567.7 263.0,567.0 261.0,566.3 259.0,565.6 257.0,564.9 255.0,564.2 253.0,563.4 251.0,562.7 249.0,561.9 247.0,561.0 245.0,560.1 243.0,559.2 241.0,558.2 239.0,557.2 237.0,556.2 235.0,555.2 233.0,554.1 231.0,553.0 229.0,551.8 227.0,550.6 225.0,549.4 223.0,548.1 221.0,546.8 219.0,545.5 217.0,544.2 215.0,543.0 213.0,541.8 211.0,540.6 209.0,539.4 207.0,538.2 205.0,537.0 203.0,535.9 201.0,534.7 199.0,533.6 197.0,532.5 194.9,531.3 192.8,530.2 190.7,529.0 188.6,527.9 186.6,526.9 184.8,525.9 183.0,525.0 181.4,524.2 179.8,523.4 178.3,522.7 176.9,522.1 175.6,521.5 174.4,520.9 173.1,520.4 172.0,520.0 171.0,519.6 170.0,519.3 169.2,519.1 168.4,518.9 167.7,518.8 166.9,518.6 166.0,518.5 165.0,518.4 163.9,518.3 162.7,518.2 161.5,518.1 160.2,518.0 158.9,518.0 157.6,518.0 156.3,518.0 155.0,518.0 153.8,518.0 152.7,518.1 151.7,518.2 150.6,518.2 149.5,518.4 148.2,518.5 146.7,518.7 145.0,519.0 143.0,519.3 140.7,519.7 138.2,520.1 135.6,520.5 132.9,521.0 130.2,521.5 127.5,522.0 125.0,522.6 122.6,523.2 120.2,523.8 117.8,524.4 115.5,525.0 113.2,525.7 110.8,526.4 108.4,527.2 106.0,528.0 103.5,528.9 101.0,529.8 98.5,530.8 95.9,531.8 93.4,532.8 90.9,533.9 88.4,534.9 86.0,536.0 83.6,537.1 81.2,538.2 78.9,539.4 76.6,540.6 74.3,541.7 72.1,542.9 70.0,544.0 68.0,545.0 66.1,546.0 64.2,546.9 62.4,547.7 60.7,548.6 59.1,549.4 57.6,550.2 56.2,551.1 55.0,552.0 54.0,552.9 53.1,553.8 52.5,554.8 51.9,555.7 51.4,556.7 50.9,557.7 50.5,558.8 50.0,560.0 49.5,561.3 49.1,562.6 48.7,563.9 48.3,565.4 48.0,566.9 47.6,568.5 47.3,570.2 47.0,572.0 46.7,574.0 46.4,576.2 46.2,578.5 45.9,580.8 45.7,583.2 45.4,585.6 45.2,587.9 45.0,590.0 44.8,592.1 44.6,594.2 44.4,596.3 44.2,598.4 44.0,600.3 43.8,602.0 43.7,603.4 43.6,604.5" fill="none" stroke="#1fe01f" stroke-width="1.7" stroke-linejoin="round" stroke-linecap="round" />
<line x1="37.3" y1="4.0" x2="37.3" y2="179.5" stroke="#484848" stroke-width="1"/>
<line x1="36.8" y1="179.0" x2="316.5" y2="179.0" stroke="#484848" stroke-width="1"/>
<line x1="43.6" y1="179.0" x2="43.6" y2="174.5" stroke="#484848" stroke-width="1"/>
<text x="43.6" y="189.3" font-size="10.7" text-anchor="middle" fill="#1a1a1a">0</text>
<line x1="56.9" y1="179.0" x2="56.9" y2="177.0" stroke="#c4b4b4" stroke-width="0.8"/>
<line x1="70.2" y1="179.0" x2="70.2" y2="177.0" stroke="#c4b4b4" stroke-width="0.8"/>
<line x1="83.5" y1="179.0" x2="83.5" y2="177.0" stroke="#c4b4b4" stroke-width="0.8"/>
<line x1="96.8" y1="179.0" x2="96.8" y2="174.5" stroke="#484848" stroke-width="1"/>
<text x="96.8" y="189.3" font-size="10.7" text-anchor="middle" fill="#1a1a1a">0.2</text>
<line x1="110.1" y1="179.0" x2="110.1" y2="177.0" stroke="#c4b4b4" stroke-width="0.8"/>
<line x1="123.3" y1="179.0" x2="123.3" y2="177.0" stroke="#c4b4b4" stroke-width="0.8"/>
<line x1="136.6" y1="179.0" x2="136.6" y2="177.0" stroke="#c4b4b4" stroke-width="0.8"/>
<line x1="149.9" y1="179.0" x2="149.9" y2="174.5" stroke="#484848" stroke-width="1"/>
<text x="149.9" y="189.3" font-size="10.7" text-anchor="middle" fill="#1a1a1a">0.4</text>
<line x1="163.2" y1="179.0" x2="163.2" y2="177.0" stroke="#c4b4b4" stroke-width="0.8"/>
<line x1="176.5" y1="179.0" x2="176.5" y2="177.0" stroke="#c4b4b4" stroke-width="0.8"/>
<line x1="189.8" y1="179.0" x2="189.8" y2="177.0" stroke="#c4b4b4" stroke-width="0.8"/>
<line x1="203.1" y1="179.0" x2="203.1" y2="174.5" stroke="#484848" stroke-width="1"/>
<text x="203.1" y="189.3" font-size="10.7" text-anchor="middle" fill="#1a1a1a">0.6</text>
<line x1="216.4" y1="179.0" x2="216.4" y2="177.0" stroke="#c4b4b4" stroke-width="0.8"/>
<line x1="229.7" y1="179.0" x2="229.7" y2="177.0" stroke="#c4b4b4" stroke-width="0.8"/>
<line x1="243.0" y1="179.0" x2="243.0" y2="177.0" stroke="#c4b4b4" stroke-width="0.8"/>
<line x1="256.2" y1="179.0" x2="256.2" y2="174.5" stroke="#484848" stroke-width="1"/>
<text x="256.2" y="189.3" font-size="10.7" text-anchor="middle" fill="#1a1a1a">0.8</text>
<line x1="269.5" y1="179.0" x2="269.5" y2="177.0" stroke="#c4b4b4" stroke-width="0.8"/>
<line x1="282.8" y1="179.0" x2="282.8" y2="177.0" stroke="#c4b4b4" stroke-width="0.8"/>
<line x1="296.1" y1="179.0" x2="296.1" y2="177.0" stroke="#c4b4b4" stroke-width="0.8"/>
<line x1="309.4" y1="179.0" x2="309.4" y2="174.5" stroke="#484848" stroke-width="1"/>
<text x="309.4" y="189.3" font-size="10.7" text-anchor="middle" fill="#1a1a1a">1</text>
<line x1="37.3" y1="4.3" x2="39.5" y2="4.3" stroke="#b8b8b8" stroke-width="0.8"/>
<line x1="37.3" y1="12.3" x2="39.5" y2="12.3" stroke="#b8b8b8" stroke-width="0.8"/>
<line x1="37.3" y1="20.2" x2="39.5" y2="20.2" stroke="#b8b8b8" stroke-width="0.8"/>
<line x1="37.3" y1="28.2" x2="41.8" y2="28.2" stroke="#484848" stroke-width="1"/>
<text x="33.5" y="31.9" font-size="10.7" text-anchor="end" fill="#1a1a1a">-1</text>
<line x1="37.3" y1="36.2" x2="39.5" y2="36.2" stroke="#b8b8b8" stroke-width="0.8"/>
<line x1="37.3" y1="44.1" x2="39.5" y2="44.1" stroke="#b8b8b8" stroke-width="0.8"/>
<line x1="37.3" y1="52.1" x2="39.5" y2="52.1" stroke="#b8b8b8" stroke-width="0.8"/>
<line x1="37.3" y1="60.0" x2="39.5" y2="60.0" stroke="#b8b8b8" stroke-width="0.8"/>
<line x1="37.3" y1="68.0" x2="41.8" y2="68.0" stroke="#484848" stroke-width="1"/>
<text x="33.5" y="71.7" font-size="10.7" text-anchor="end" fill="#1a1a1a">-0.5</text>
<line x1="37.3" y1="76.0" x2="39.5" y2="76.0" stroke="#b8b8b8" stroke-width="0.8"/>
<line x1="37.3" y1="83.9" x2="39.5" y2="83.9" stroke="#b8b8b8" stroke-width="0.8"/>
<line x1="37.3" y1="91.9" x2="39.5" y2="91.9" stroke="#b8b8b8" stroke-width="0.8"/>
<line x1="37.3" y1="99.8" x2="39.5" y2="99.8" stroke="#b8b8b8" stroke-width="0.8"/>
<line x1="37.3" y1="107.8" x2="41.8" y2="107.8" stroke="#484848" stroke-width="1"/>
<text x="33.5" y="111.5" font-size="10.7" text-anchor="end" fill="#1a1a1a">0</text>
<line x1="37.3" y1="115.8" x2="39.5" y2="115.8" stroke="#b8b8b8" stroke-width="0.8"/>
<line x1="37.3" y1="123.7" x2="39.5" y2="123.7" stroke="#b8b8b8" stroke-width="0.8"/>
<line x1="37.3" y1="131.7" x2="39.5" y2="131.7" stroke="#b8b8b8" stroke-width="0.8"/>
<line x1="37.3" y1="139.6" x2="39.5" y2="139.6" stroke="#b8b8b8" stroke-width="0.8"/>
<line x1="37.3" y1="147.6" x2="41.8" y2="147.6" stroke="#484848" stroke-width="1"/>
<text x="33.5" y="151.3" font-size="10.7" text-anchor="end" fill="#1a1a1a">0.5</text>
<line x1="37.3" y1="155.6" x2="39.5" y2="155.6" stroke="#b8b8b8" stroke-width="0.8"/>
<line x1="37.3" y1="163.5" x2="39.5" y2="163.5" stroke="#b8b8b8" stroke-width="0.8"/>
<line x1="37.3" y1="171.5" x2="39.5" y2="171.5" stroke="#b8b8b8" stroke-width="0.8"/>
<text x="176.8" y="198.6" font-size="11.2" font-weight="bold" text-anchor="middle" fill="#111">x/c</text>
<text transform="translate(8.3,93.2) rotate(-90)" font-size="11.2" font-weight="bold" text-anchor="middle" fill="#111">cp</text>
<line x1="37.3" y1="217.0" x2="37.3" y2="392.1" stroke="#484848" stroke-width="1"/>
<line x1="36.8" y1="391.6" x2="316.5" y2="391.6" stroke="#484848" stroke-width="1"/>
<line x1="43.6" y1="391.6" x2="43.6" y2="387.1" stroke="#484848" stroke-width="1"/>
<text x="43.6" y="401.5" font-size="10.7" text-anchor="middle" fill="#1a1a1a">0</text>
<line x1="56.9" y1="391.6" x2="56.9" y2="389.6" stroke="#c4b4b4" stroke-width="0.8"/>
<line x1="70.2" y1="391.6" x2="70.2" y2="389.6" stroke="#c4b4b4" stroke-width="0.8"/>
<line x1="83.5" y1="391.6" x2="83.5" y2="389.6" stroke="#c4b4b4" stroke-width="0.8"/>
<line x1="96.8" y1="391.6" x2="96.8" y2="387.1" stroke="#484848" stroke-width="1"/>
<text x="96.8" y="401.5" font-size="10.7" text-anchor="middle" fill="#1a1a1a">0.2</text>
<line x1="110.1" y1="391.6" x2="110.1" y2="389.6" stroke="#c4b4b4" stroke-width="0.8"/>
<line x1="123.3" y1="391.6" x2="123.3" y2="389.6" stroke="#c4b4b4" stroke-width="0.8"/>
<line x1="136.6" y1="391.6" x2="136.6" y2="389.6" stroke="#c4b4b4" stroke-width="0.8"/>
<line x1="149.9" y1="391.6" x2="149.9" y2="387.1" stroke="#484848" stroke-width="1"/>
<text x="149.9" y="401.5" font-size="10.7" text-anchor="middle" fill="#1a1a1a">0.4</text>
<line x1="163.2" y1="391.6" x2="163.2" y2="389.6" stroke="#c4b4b4" stroke-width="0.8"/>
<line x1="176.5" y1="391.6" x2="176.5" y2="389.6" stroke="#c4b4b4" stroke-width="0.8"/>
<line x1="189.8" y1="391.6" x2="189.8" y2="389.6" stroke="#c4b4b4" stroke-width="0.8"/>
<line x1="203.1" y1="391.6" x2="203.1" y2="387.1" stroke="#484848" stroke-width="1"/>
<text x="203.1" y="401.5" font-size="10.7" text-anchor="middle" fill="#1a1a1a">0.6</text>
<line x1="216.4" y1="391.6" x2="216.4" y2="389.6" stroke="#c4b4b4" stroke-width="0.8"/>
<line x1="229.7" y1="391.6" x2="229.7" y2="389.6" stroke="#c4b4b4" stroke-width="0.8"/>
<line x1="243.0" y1="391.6" x2="243.0" y2="389.6" stroke="#c4b4b4" stroke-width="0.8"/>
<line x1="256.2" y1="391.6" x2="256.2" y2="387.1" stroke="#484848" stroke-width="1"/>
<text x="256.2" y="401.5" font-size="10.7" text-anchor="middle" fill="#1a1a1a">0.8</text>
<line x1="269.5" y1="391.6" x2="269.5" y2="389.6" stroke="#c4b4b4" stroke-width="0.8"/>
<line x1="282.8" y1="391.6" x2="282.8" y2="389.6" stroke="#c4b4b4" stroke-width="0.8"/>
<line x1="296.1" y1="391.6" x2="296.1" y2="389.6" stroke="#c4b4b4" stroke-width="0.8"/>
<line x1="309.4" y1="391.6" x2="309.4" y2="387.1" stroke="#484848" stroke-width="1"/>
<text x="309.4" y="401.5" font-size="10.7" text-anchor="middle" fill="#1a1a1a">1</text>
<line x1="37.3" y1="217.3" x2="41.8" y2="217.3" stroke="#484848" stroke-width="1"/>
<text x="33.5" y="221.0" font-size="10.7" text-anchor="end" fill="#1a1a1a">-1.5</text>
<line x1="37.3" y1="224.7" x2="39.5" y2="224.7" stroke="#b8b8b8" stroke-width="0.8"/>
<line x1="37.3" y1="232.1" x2="39.5" y2="232.1" stroke="#b8b8b8" stroke-width="0.8"/>
<line x1="37.3" y1="239.4" x2="39.5" y2="239.4" stroke="#b8b8b8" stroke-width="0.8"/>
<line x1="37.3" y1="246.8" x2="39.5" y2="246.8" stroke="#b8b8b8" stroke-width="0.8"/>
<line x1="37.3" y1="254.2" x2="41.8" y2="254.2" stroke="#484848" stroke-width="1"/>
<text x="33.5" y="257.9" font-size="10.7" text-anchor="end" fill="#1a1a1a">-1</text>
<line x1="37.3" y1="261.6" x2="39.5" y2="261.6" stroke="#b8b8b8" stroke-width="0.8"/>
<line x1="37.3" y1="269.0" x2="39.5" y2="269.0" stroke="#b8b8b8" stroke-width="0.8"/>
<line x1="37.3" y1="276.3" x2="39.5" y2="276.3" stroke="#b8b8b8" stroke-width="0.8"/>
<line x1="37.3" y1="283.7" x2="39.5" y2="283.7" stroke="#b8b8b8" stroke-width="0.8"/>
<line x1="37.3" y1="291.1" x2="41.8" y2="291.1" stroke="#484848" stroke-width="1"/>
<text x="33.5" y="294.8" font-size="10.7" text-anchor="end" fill="#1a1a1a">-0.5</text>
<line x1="37.3" y1="298.5" x2="39.5" y2="298.5" stroke="#b8b8b8" stroke-width="0.8"/>
<line x1="37.3" y1="305.9" x2="39.5" y2="305.9" stroke="#b8b8b8" stroke-width="0.8"/>
<line x1="37.3" y1="313.2" x2="39.5" y2="313.2" stroke="#b8b8b8" stroke-width="0.8"/>
<line x1="37.3" y1="320.6" x2="39.5" y2="320.6" stroke="#b8b8b8" stroke-width="0.8"/>
<line x1="37.3" y1="328.0" x2="41.8" y2="328.0" stroke="#484848" stroke-width="1"/>
<text x="33.5" y="331.7" font-size="10.7" text-anchor="end" fill="#1a1a1a">0</text>
<line x1="37.3" y1="335.4" x2="39.5" y2="335.4" stroke="#b8b8b8" stroke-width="0.8"/>
<line x1="37.3" y1="342.8" x2="39.5" y2="342.8" stroke="#b8b8b8" stroke-width="0.8"/>
<line x1="37.3" y1="350.1" x2="39.5" y2="350.1" stroke="#b8b8b8" stroke-width="0.8"/>
<line x1="37.3" y1="357.5" x2="39.5" y2="357.5" stroke="#b8b8b8" stroke-width="0.8"/>
<line x1="37.3" y1="364.9" x2="41.8" y2="364.9" stroke="#484848" stroke-width="1"/>
<text x="33.5" y="368.6" font-size="10.7" text-anchor="end" fill="#1a1a1a">0.5</text>
<line x1="37.3" y1="372.3" x2="39.5" y2="372.3" stroke="#b8b8b8" stroke-width="0.8"/>
<line x1="37.3" y1="379.7" x2="39.5" y2="379.7" stroke="#b8b8b8" stroke-width="0.8"/>
<line x1="37.3" y1="387.0" x2="39.5" y2="387.0" stroke="#b8b8b8" stroke-width="0.8"/>
<text x="176.8" y="411.2" font-size="11.2" font-weight="bold" text-anchor="middle" fill="#111">x/c</text>
<text transform="translate(8.3,306.5) rotate(-90)" font-size="11.2" font-weight="bold" text-anchor="middle" fill="#111">cp</text>
<line x1="37.3" y1="431.0" x2="37.3" y2="605.9" stroke="#484848" stroke-width="1"/>
<line x1="36.8" y1="605.4" x2="316.5" y2="605.4" stroke="#484848" stroke-width="1"/>
<line x1="43.6" y1="605.4" x2="43.6" y2="600.9" stroke="#484848" stroke-width="1"/>
<text x="43.6" y="615.6" font-size="10.7" text-anchor="middle" fill="#1a1a1a">0</text>
<line x1="56.9" y1="605.4" x2="56.9" y2="603.4" stroke="#c4b4b4" stroke-width="0.8"/>
<line x1="70.2" y1="605.4" x2="70.2" y2="603.4" stroke="#c4b4b4" stroke-width="0.8"/>
<line x1="83.5" y1="605.4" x2="83.5" y2="603.4" stroke="#c4b4b4" stroke-width="0.8"/>
<line x1="96.8" y1="605.4" x2="96.8" y2="600.9" stroke="#484848" stroke-width="1"/>
<text x="96.8" y="615.6" font-size="10.7" text-anchor="middle" fill="#1a1a1a">0.2</text>
<line x1="110.1" y1="605.4" x2="110.1" y2="603.4" stroke="#c4b4b4" stroke-width="0.8"/>
<line x1="123.3" y1="605.4" x2="123.3" y2="603.4" stroke="#c4b4b4" stroke-width="0.8"/>
<line x1="136.6" y1="605.4" x2="136.6" y2="603.4" stroke="#c4b4b4" stroke-width="0.8"/>
<line x1="149.9" y1="605.4" x2="149.9" y2="600.9" stroke="#484848" stroke-width="1"/>
<text x="149.9" y="615.6" font-size="10.7" text-anchor="middle" fill="#1a1a1a">0.4</text>
<line x1="163.2" y1="605.4" x2="163.2" y2="603.4" stroke="#c4b4b4" stroke-width="0.8"/>
<line x1="176.5" y1="605.4" x2="176.5" y2="603.4" stroke="#c4b4b4" stroke-width="0.8"/>
<line x1="189.8" y1="605.4" x2="189.8" y2="603.4" stroke="#c4b4b4" stroke-width="0.8"/>
<line x1="203.1" y1="605.4" x2="203.1" y2="600.9" stroke="#484848" stroke-width="1"/>
<text x="203.1" y="615.6" font-size="10.7" text-anchor="middle" fill="#1a1a1a">0.6</text>
<line x1="216.4" y1="605.4" x2="216.4" y2="603.4" stroke="#c4b4b4" stroke-width="0.8"/>
<line x1="229.7" y1="605.4" x2="229.7" y2="603.4" stroke="#c4b4b4" stroke-width="0.8"/>
<line x1="243.0" y1="605.4" x2="243.0" y2="603.4" stroke="#c4b4b4" stroke-width="0.8"/>
<line x1="256.2" y1="605.4" x2="256.2" y2="600.9" stroke="#484848" stroke-width="1"/>
<text x="256.2" y="615.6" font-size="10.7" text-anchor="middle" fill="#1a1a1a">0.8</text>
<line x1="269.5" y1="605.4" x2="269.5" y2="603.4" stroke="#c4b4b4" stroke-width="0.8"/>
<line x1="282.8" y1="605.4" x2="282.8" y2="603.4" stroke="#c4b4b4" stroke-width="0.8"/>
<line x1="296.1" y1="605.4" x2="296.1" y2="603.4" stroke="#c4b4b4" stroke-width="0.8"/>
<line x1="309.4" y1="605.4" x2="309.4" y2="600.9" stroke="#484848" stroke-width="1"/>
<text x="309.4" y="615.6" font-size="10.7" text-anchor="middle" fill="#1a1a1a">1</text>
<line x1="37.3" y1="434.6" x2="39.5" y2="434.6" stroke="#b8b8b8" stroke-width="0.8"/>
<line x1="37.3" y1="442.2" x2="39.5" y2="442.2" stroke="#b8b8b8" stroke-width="0.8"/>
<line x1="37.3" y1="449.8" x2="39.5" y2="449.8" stroke="#b8b8b8" stroke-width="0.8"/>
<line x1="37.3" y1="457.5" x2="39.5" y2="457.5" stroke="#b8b8b8" stroke-width="0.8"/>
<line x1="37.3" y1="465.1" x2="41.8" y2="465.1" stroke="#484848" stroke-width="1"/>
<text x="33.5" y="468.8" font-size="10.7" text-anchor="end" fill="#1a1a1a">-1</text>
<line x1="37.3" y1="472.7" x2="39.5" y2="472.7" stroke="#b8b8b8" stroke-width="0.8"/>
<line x1="37.3" y1="480.4" x2="39.5" y2="480.4" stroke="#b8b8b8" stroke-width="0.8"/>
<line x1="37.3" y1="488.0" x2="39.5" y2="488.0" stroke="#b8b8b8" stroke-width="0.8"/>
<line x1="37.3" y1="495.6" x2="39.5" y2="495.6" stroke="#b8b8b8" stroke-width="0.8"/>
<line x1="37.3" y1="503.2" x2="41.8" y2="503.2" stroke="#484848" stroke-width="1"/>
<text x="33.5" y="506.9" font-size="10.7" text-anchor="end" fill="#1a1a1a">-0.5</text>
<line x1="37.3" y1="510.9" x2="39.5" y2="510.9" stroke="#b8b8b8" stroke-width="0.8"/>
<line x1="37.3" y1="518.5" x2="39.5" y2="518.5" stroke="#b8b8b8" stroke-width="0.8"/>
<line x1="37.3" y1="526.1" x2="39.5" y2="526.1" stroke="#b8b8b8" stroke-width="0.8"/>
<line x1="37.3" y1="533.8" x2="39.5" y2="533.8" stroke="#b8b8b8" stroke-width="0.8"/>
<line x1="37.3" y1="541.4" x2="41.8" y2="541.4" stroke="#484848" stroke-width="1"/>
<text x="33.5" y="545.1" font-size="10.7" text-anchor="end" fill="#1a1a1a">0</text>
<line x1="37.3" y1="549.0" x2="39.5" y2="549.0" stroke="#b8b8b8" stroke-width="0.8"/>
<line x1="37.3" y1="556.7" x2="39.5" y2="556.7" stroke="#b8b8b8" stroke-width="0.8"/>
<line x1="37.3" y1="564.3" x2="39.5" y2="564.3" stroke="#b8b8b8" stroke-width="0.8"/>
<line x1="37.3" y1="571.9" x2="39.5" y2="571.9" stroke="#b8b8b8" stroke-width="0.8"/>
<line x1="37.3" y1="579.5" x2="41.8" y2="579.5" stroke="#484848" stroke-width="1"/>
<text x="33.5" y="583.2" font-size="10.7" text-anchor="end" fill="#1a1a1a">0.5</text>
<line x1="37.3" y1="587.2" x2="39.5" y2="587.2" stroke="#b8b8b8" stroke-width="0.8"/>
<line x1="37.3" y1="594.8" x2="39.5" y2="594.8" stroke="#b8b8b8" stroke-width="0.8"/>
<line x1="37.3" y1="602.4" x2="39.5" y2="602.4" stroke="#b8b8b8" stroke-width="0.8"/>
<text x="176.8" y="625.2" font-size="11.2" font-weight="bold" text-anchor="middle" fill="#111">x/c</text>
<text transform="translate(8.3,520.0) rotate(-90)" font-size="11.2" font-weight="bold" text-anchor="middle" fill="#111">cp</text>
<line x1="223.7" y1="227.8" x2="267.8" y2="227.8" stroke="#141414" stroke-width="1.8"/>
<text x="276.2" y="231.2" font-size="9.5" font-weight="bold" fill="#111">TAU</text>
<line x1="223.7" y1="240.0" x2="267.8" y2="240.0" stroke="#ea1420" stroke-width="1.8"/>
<text x="276.2" y="243.4" font-size="9.5" font-weight="bold" fill="#111">Isomap+I</text>
<line x1="223.7" y1="251.8" x2="267.8" y2="251.8" stroke="#1fe01f" stroke-width="1.8"/>
<text x="276.2" y="254.9" font-size="9.5" font-weight="bold" fill="#111">POD+I</text>
<g id="wing">
<clipPath id="wc"><polygon points="357.0,50.5 531.9,50.5 604.8,294.3 682.2,545.7 615.4,545.7 483.9,294.3"/></clipPath>
<polyline points="532.7,50.5 605.6,294.3 683.0,545.7" fill="none" stroke="#ffff30" stroke-width="1.6"/>
<polygon points="357.0,50.5 531.9,50.5 604.8,294.3 682.2,545.7 615.4,545.7 483.9,294.3" fill="#48ff00" stroke="none" stroke-width="0" stroke-linejoin="round" />
<g clip-path="url(#wc)">
<polygon points="357.0,50.5 507.8,50.5 508.2,54.9 508.7,60.9 509.3,68.1 509.9,75.8 510.6,83.3 511.3,90.0 512.0,96.0 512.7,101.9 513.5,107.5 514.4,113.1 515.3,118.6 516.3,124.0 517.2,129.3 518.0,134.4 518.8,139.4 519.7,144.5 520.7,149.6 521.7,155.0 522.9,160.6 524.2,166.4 525.6,172.3 527.0,178.3 528.3,184.2 529.7,190.0 531.1,195.7 532.6,201.4 534.1,207.1 535.8,212.7 537.4,218.3 539.2,224.0 541.0,229.6 543.0,235.3 544.9,240.9 546.9,246.5 548.9,252.2 550.9,258.0 553.0,263.9 555.1,269.9 557.3,275.9 559.5,281.9 561.7,288.0 564.0,294.0 566.3,300.0 568.6,305.9 571.0,311.8 573.4,317.7 575.9,323.8 578.3,330.0 580.7,336.3 583.0,342.7 585.3,349.1 587.7,355.8 590.3,362.7 593.2,370.0 596.4,377.9 600.1,386.5 604.0,395.3 607.8,404.1 611.4,412.4 614.5,420.0 617.1,426.7 619.3,432.9 621.3,438.6 623.1,444.1 624.8,449.5 630.6,464.0 634.6,473.0 640.0,481.5 647.8,489.0 656.0,502.0 663.8,514.6 667.6,524.8 676.5,533.8 681.6,545.5 615.4,545.7" fill="#00ff48" stroke="none" stroke-width="0" stroke-linejoin="round" />
<polygon points="644.6,489.0 648.0,489.0 647.2,527.4 645.4,527.4" fill="#48ff00" stroke="none" stroke-width="0" stroke-linejoin="round" />
<polygon points="370.0,50.5 367.0,53.0 365.6,57.0 365.4,61.0 366.5,65.0 366.6,67.0 373.4,80.0 435.8,200.0 540.2,400.0 592.5,500.0 608.2,530.0 611.8,537.0 616.5,541.0 628.0,542.9 640.0,541.5 647.8,536.3 644.6,526.0 640.8,517.2 639.8,505.0 637.7,502.5 637.2,499.9 636.6,497.2 635.9,494.2 635.1,490.9 634.1,487.0 632.9,482.5 631.6,477.5 630.1,472.1 628.5,466.4 626.8,460.7 625.1,455.0 623.4,449.5 621.7,444.1 619.9,438.6 617.9,432.9 615.7,426.7 613.1,420.0 610.0,412.4 606.4,404.1 602.6,395.3 598.7,386.5 594.9,377.9 591.6,370.0 588.7,362.7 586.0,355.8 583.4,349.1 581.0,342.7 578.6,336.3 576.1,330.0 573.6,323.8 571.0,317.7 568.5,311.8 566.0,305.9 563.6,300.0 561.2,294.0 558.8,288.0 556.5,281.9 554.2,275.9 552.0,269.9 549.8,263.9 547.6,258.0 545.5,252.2 543.4,246.5 541.3,240.9 539.4,235.3 535.8,229.6 534.0,224.0 532.2,218.3 530.6,212.7 528.9,207.1 527.4,201.4 525.9,195.7 524.5,190.0 523.1,184.2 521.9,178.3 520.6,172.3 519.5,166.4 518.4,160.6 517.4,155.0 516.5,149.6 515.7,144.5 515.0,139.4 514.4,134.4 513.7,129.3 513.0,124.0 512.2,118.6 511.5,113.1 510.7,107.5 509.9,101.9 509.2,96.0 508.5,90.0 507.8,83.3 507.1,75.8 506.5,68.1 505.9,60.9 505.4,54.9 505.0,50.5" fill="#00ffe0" stroke="none" stroke-width="0" stroke-linejoin="round" />
<ellipse cx="663.1" cy="535.4" rx="7.7" ry="3.2" fill="#00ffe0" stroke="#0a0a0a" stroke-width="0.9" transform="rotate(-8 663.1 535.4)"/>
<polygon points="379.1,70.6 395.0,86.0 410.4,100.0 432.0,124.0 460.0,153.7 480.0,175.3 505.5,199.8 518.8,210.0 524.5,218.2 530.0,226.5 536.0,237.5 542.5,251.0 548.3,264.0 550.4,269.9 552.6,275.9 554.9,281.9 557.2,288.0 559.6,294.0 562.0,300.0 564.4,305.9 566.9,311.8 569.4,317.7 572.0,323.8 574.5,330.0 577.0,336.3 579.4,342.7 581.8,349.1 584.4,355.8 587.1,362.7 590.0,370.0 593.3,377.9 597.1,386.5 601.0,395.3 604.8,404.1 608.4,412.4 611.5,420.0 614.1,426.7 616.3,432.9 618.3,438.6 620.1,444.1 621.8,449.5 623.5,455.0 625.2,460.7 626.9,466.4 628.5,472.1 630.0,477.5 631.3,482.5 632.5,487.0 633.5,490.9 634.3,494.2 635.0,497.2 635.6,499.9 636.1,502.5 637.8,513.4 636.0,522.0 632.1,530.0 628.0,534.6 624.5,536.2 619.0,535.0 611.4,530.0 607.7,518.5 600.6,508.0 593.5,497.0 586.6,485.0 542.2,400.0 489.9,300.0 437.8,200.0 398.3,124.0 380.6,90.0 377.0,74.0" fill="#0090ff" stroke="none" stroke-width="0" stroke-linejoin="round" />
</g>
<polygon points="357.0,50.5 531.9,50.5 604.8,294.3 682.2,545.7 615.4,545.7 483.9,294.3" fill="none" stroke="#0a0a0a" stroke-width="1.0" stroke-linejoin="round" />
<polyline points="357.3,50.5 484.2,294.3 615.7,545.7" fill="none" stroke="#0a0a0a" stroke-width="1.8"/>
<line x1="357.0" y1="50.5" x2="531.9" y2="50.5" stroke="#777" stroke-width="1"/>
</g>
<g clip-path="url(#wc)">
<polyline points="378.2,70.0 378.4,69.8 378.7,69.4 379.4,69.5 381.0,70.6 383.7,73.2 387.2,77.0 391.1,81.1 395.0,85.0 398.6,88.3 402.2,91.4 406.1,94.8 410.4,99.0 415.2,104.1 420.4,109.8 426.0,116.0 432.0,122.6 438.7,129.8 446.1,137.6 453.4,145.3 460.0,152.3 465.5,158.1 470.3,163.3 474.9,168.2 480.0,173.3 486.2,179.2 493.0,185.6 499.2,191.2 503.5,195.2 511.7,198.3 514.7,187.1 516.8,192.7 521.0,206.0 528.0,224.0" fill="none" stroke="#0a0a0a" stroke-width="1.1" stroke-linejoin="round"  />
<polyline points="379.1,70.6 377.4,72.0 377.2,74.0 380.6,90.0 398.3,124.0 437.8,200.0 489.9,300.0 542.2,400.0 586.6,485.0 593.5,497.0 600.6,508.0 607.7,518.5 611.4,530.0 619.0,535.0 624.5,536.2 628.0,534.6 632.1,530.0 636.0,522.0 637.8,513.4" fill="none" stroke="#0a0a0a" stroke-width="0.8" stroke-linejoin="round"  />
<polyline points="370.0,50.5 367.0,53.0 365.6,57.0 365.4,61.0 366.5,65.0 366.6,67.0" fill="none" stroke="#0a0a0a" stroke-width="1.0" stroke-linejoin="round"  />
<polyline points="505.8,50.5 506.2,54.9 506.7,60.9 507.3,68.1 507.9,75.8 508.6,83.3 509.3,90.0 510.0,96.0 510.7,101.9 511.5,107.5 512.3,113.1 513.0,118.6 513.8,124.0 514.5,129.3 515.2,134.4 515.8,139.4 516.5,144.5 517.3,149.6 518.2,155.0 519.2,160.6 520.3,166.4 521.4,172.3 522.7,178.3 523.9,184.2 525.3,190.0 526.7,195.7 528.2,201.4 529.7,207.1 531.4,212.7 533.0,218.3 534.8,224.0 536.6,229.6 538.6,235.3 540.5,240.9 542.6,246.5 544.7,252.2 546.8,258.0 549.0,263.9 551.2,269.9 553.4,275.9 555.7,281.9 558.0,288.0 560.4,294.0 562.8,300.0 565.2,305.9 567.7,311.8 570.2,317.7 572.8,323.8 575.3,330.0 577.8,336.3 580.2,342.7 582.6,349.1 585.2,355.8 587.9,362.7 590.8,370.0 594.1,377.9 597.9,386.5 601.8,395.3 605.6,404.1 609.2,412.4 612.3,420.0 614.9,426.7 617.1,432.9 619.1,438.6 620.9,444.1 622.6,449.5 624.3,455.0 626.0,460.7 627.7,466.4 629.3,472.1 630.8,477.5 632.1,482.5 633.3,487.0 634.3,490.9 635.1,494.2 635.8,497.2 636.4,499.9 636.9,502.5 637.4,505.0 637.8,507.5 638.1,510.0 638.3,512.4 638.4,514.5 638.5,516.2 638.6,517.5" fill="none" stroke="#0a0a0a" stroke-width="1.0" stroke-linejoin="round"  />
<polyline points="508.0,50.5 508.4,54.9 508.9,60.9 509.5,68.1 510.1,75.8 510.8,83.3 511.5,90.0 512.2,96.0 512.9,101.9 513.7,107.5 514.6,113.1 515.5,118.6 516.5,124.0 517.4,129.3 518.2,134.4 519.0,139.4 519.9,144.5 520.9,149.6 521.9,155.0 523.1,160.6 524.4,166.4 525.8,172.3 527.2,178.3 528.5,184.2 529.9,190.0 531.3,195.7 532.8,201.4 534.3,207.1 536.0,212.7 537.6,218.3 539.4,224.0 541.2,229.6 543.2,235.3 545.1,240.9 547.1,246.5 549.1,252.2 551.1,258.0 553.2,263.9 555.3,269.9 557.5,275.9 559.7,281.9 561.9,288.0 564.2,294.0 566.5,300.0 568.8,305.9 571.2,311.8 573.6,317.7 576.1,323.8 578.5,330.0 580.9,336.3 583.2,342.7 585.5,349.1 587.9,355.8 590.5,362.7 593.4,370.0 596.6,377.9 600.3,386.5 604.2,395.3 608.0,404.1 611.6,412.4 614.7,420.0 617.3,426.7 619.5,432.9 621.5,438.6 623.3,444.1 625.0,449.5 630.6,464.0 634.6,473.0 640.0,481.5" fill="none" stroke="#0a0a0a" stroke-width="1.0" stroke-linejoin="round"  />
<polyline points="538.7,229.6 540.6,235.3 542.6,240.9 544.6,246.5 546.6,252.2 548.7,258.0 550.8,263.9 553.0,269.9 555.2,275.9 557.4,281.9 559.7,288.0 562.0,294.0 564.3,300.0 566.7,305.9 569.2,311.8 571.6,317.7 574.1,323.8 576.6,330.0 579.0,336.3 581.4,342.7 583.8,349.1 586.2,355.8 588.9,362.7 591.7,370.0 595.0,377.9 598.7,386.5 602.6,395.3 606.5,404.1 610.0,412.4 613.1,420.0 615.7,426.7 618.0,432.9 619.9,438.6 621.7,444.1 623.4,449.5 625.1,455.0 626.9,460.7 628.6,466.4 630.1,472.1 631.6,477.5 633.0,482.5 634.1,487.0 635.2,490.9 636.0,494.2 636.7,497.2 637.3,499.9 637.8,502.5 638.2,505.0 638.6,507.5 638.9,510.0 639.1,512.4 639.2,514.5 639.4,516.2 639.4,517.5" fill="none" stroke="#0a0a0a" stroke-width="0.8" stroke-linejoin="round"  />
<polyline points="608.2,530.0 611.8,537.0 616.5,541.0 628.0,542.9 640.0,541.5 647.8,536.3 644.6,526.0 640.8,517.2 639.8,505.0" fill="none" stroke="#0a0a0a" stroke-width="0.9" stroke-linejoin="round"  />
<polyline points="647.8,489.0 656.0,502.0 663.8,514.6 667.6,524.8 676.5,533.8 681.6,545.5" fill="none" stroke="#0a0a0a" stroke-width="0.9" stroke-linejoin="round"  />
<polyline points="644.6,489.0 645.4,527.4 647.2,527.4 648.0,489.0" fill="none" stroke="#0a0a0a" stroke-width="0.7" stroke-linejoin="round"  />
<polyline points="489.0,50.5 489.3,57.7 489.8,68.1 490.4,79.6 491.0,90.0 491.6,99.0 492.3,107.5 493.1,115.8 494.0,124.0 495.2,132.2 496.6,140.3 498.1,148.0 499.5,155.0 500.8,161.0 502.1,166.2 503.3,171.1 504.5,176.0 505.7,181.3 506.9,186.8 507.9,191.6 508.6,195.0" fill="none" stroke="#0a0a0a" stroke-width="1.2" stroke-linejoin="round" stroke-dasharray="5 2 1.2 2" />
<polyline points="494.6,50.5 495.1,57.7 495.8,68.1 496.6,79.6 497.5,90.0 498.5,99.0 499.7,107.5 500.9,115.8 502.2,124.0 503.6,132.2 505.1,140.3 506.6,148.0 508.0,155.0 509.2,161.0 510.4,166.2 511.5,171.1 512.5,176.0 513.4,181.0 514.2,185.8 515.0,190.7 516.0,196.0 517.2,201.6 518.5,207.4 520.1,213.5 522.0,220.0 524.4,227.1 527.1,234.6 530.0,242.4 533.0,250.0 536.0,257.3 539.2,264.5 542.5,271.9 546.0,280.0 549.7,288.8 553.7,298.2 557.8,308.0 562.0,318.0 566.3,328.1 570.8,338.4 575.3,349.0 580.0,360.0 584.9,371.6 590.0,383.7 595.1,395.9 600.0,408.0 604.8,420.0 609.5,432.0 614.0,443.8 618.0,455.0 621.6,465.8 624.9,476.4 627.8,486.2 630.0,495.0 631.5,502.9 632.2,510.0 632.7,515.9 633.0,520.0" fill="none" stroke="#0a0a0a" stroke-width="1.2" stroke-linejoin="round" stroke-dasharray="5 2 1.2 2" />
<polyline points="499.0,50.5 499.6,57.7 500.5,68.1 501.5,79.6 502.5,90.0 503.5,99.0 504.6,107.5 505.8,115.8 507.0,124.0 508.4,132.2 509.9,140.3 511.3,148.0 512.6,155.0 513.6,161.0 514.4,166.2 515.2,171.1 516.0,176.0 516.9,181.0 517.8,185.8 518.8,190.7 520.0,196.0 521.4,201.6 523.1,207.4 524.9,213.5 527.0,220.0 529.4,227.1 532.1,234.6 535.0,242.4 538.0,250.0 541.0,257.3 544.2,264.5 547.5,271.9 551.0,280.0 554.7,288.8 558.7,298.2 562.8,308.0 567.0,318.0 571.3,328.1 575.8,338.4 580.3,349.0 585.0,360.0 589.9,371.6 595.1,383.7 600.2,395.9 605.0,408.0 609.6,420.0 614.1,432.0 618.2,443.8 622.0,455.0 625.4,465.8 628.4,476.4 631.0,486.2 633.0,495.0 634.4,502.9 635.2,510.0 635.6,515.9 636.0,520.0" fill="none" stroke="#0a0a0a" stroke-width="1.2" stroke-linejoin="round" stroke-dasharray="5 2 1.2 2" />
<polyline points="510.7,50.5 511.0,53.9 511.5,58.7 512.1,64.3 513.0,70.0 514.1,75.8 515.4,81.9 516.9,88.3 518.5,95.0 520.2,101.9 522.2,109.1 524.1,116.5 526.0,124.0 527.7,131.5 529.4,139.1 531.1,146.9 533.0,155.0 535.2,163.4 537.6,171.9 540.1,180.8 542.5,190.0 544.7,199.8 546.9,210.2 549.1,220.4 551.5,230.0 554.2,238.6 557.0,246.5 560.0,254.2 563.0,262.0 566.1,270.1 569.4,278.2 572.6,286.3 575.7,294.0 578.4,300.9 580.9,307.3 583.6,314.0 586.7,322.0 590.7,332.1 595.2,343.6 599.7,355.0 603.5,365.0 606.3,372.5 608.4,378.5 610.5,384.5 613.0,392.0 616.2,401.8 619.8,412.9 623.4,424.3 627.0,435.0 630.6,445.2 634.3,455.2 637.7,464.4 640.5,472.0 642.5,477.9 643.8,482.3 644.8,485.6 645.5,488.0" fill="none" stroke="#0a0a0a" stroke-width="1.2" stroke-linejoin="round" stroke-dasharray="5 2 1.2 2" />
<polyline points="519.0,232.0 518.7,231.4 518.2,230.5 517.7,229.8 517.5,229.5 517.5,229.7 517.6,230.3 517.9,231.3 518.5,233.0 519.4,235.1 520.4,237.6 521.9,241.1 524.0,246.0 526.8,252.8 530.2,261.2 534.0,270.4 538.0,280.0 542.4,290.0 547.1,300.6 552.0,311.5 556.7,322.0 561.1,332.1 565.4,341.9 569.7,351.8 574.0,362.0 578.5,372.6 583.1,383.5 587.6,394.4 592.0,405.0 596.2,415.2 600.2,425.2 604.2,435.1 608.0,445.0 611.8,455.5 615.6,466.2 619.1,476.4 622.0,485.0 624.2,491.9 625.9,497.5 627.1,501.9 628.0,505.0" fill="none" stroke="#0a0a0a" stroke-width="1.2" stroke-linejoin="round" stroke-dasharray="5 2 1.2 2" />
<polyline points="519.0,232.0 519.7,232.5 520.7,233.2 521.8,234.0 523.0,235.0 524.3,236.2 525.8,237.7 527.1,239.1 528.0,240.0" fill="none" stroke="#0a0a0a" stroke-width="1.2" stroke-linejoin="round" stroke-dasharray="5 2 1.2 2" />
<polyline points="381.0,70.8 383.5,73.4 387.0,77.1 391.1,81.3 395.0,85.2 398.6,88.5 402.2,91.6 406.1,95.0 410.4,99.2 415.2,104.3 420.4,110.0 426.0,116.2 432.0,122.8 438.7,130.0 446.1,137.8 453.4,145.5 460.0,152.5 465.5,158.4 470.3,163.7 475.0,168.7 480.0,174.0 486.1,180.1 492.8,186.6 498.8,192.4 503.0,196.5" fill="none" stroke="#0a0a0a" stroke-width="1.2" stroke-linejoin="round" stroke-dasharray="5 2 1.2 2" />
<polyline points="633.0,520.0 632.9,522.5 632.8,526.2 632.5,530.0 632.0,533.0 631.1,534.9 629.9,536.3 628.8,537.3 628.0,538.0" fill="none" stroke="#0a0a0a" stroke-width="1.2" stroke-linejoin="round" stroke-dasharray="5 2 1.2 2" />
<polyline points="636.0,520.0 636.0,534.0" fill="none" stroke="#0a0a0a" stroke-width="1.2" stroke-linejoin="round" stroke-dasharray="5 2 1.2 2" />
<polyline points="639.5,520.0 640.0,538.0" fill="none" stroke="#0a0a0a" stroke-width="1.2" stroke-linejoin="round" stroke-dasharray="5 2 1.2 2" />
<polygon points="506.0,148.0 507.2,150.0 510.0,162.0 508.6,160.5" fill="#0a0a0a" stroke="#0a0a0a" stroke-width="0.6" stroke-linejoin="round" />
<polyline points="534.6,235.3 536.5,240.9 538.6,246.5 540.7,252.2 542.8,258.0 545.0,263.9 547.2,269.9 549.4,275.9 551.7,281.9 554.0,288.0 556.4,294.0 558.8,300.0 561.2,305.9 563.7,311.8 566.2,317.7 568.8,323.8 571.3,330.0 573.8,336.3 576.2,342.7 578.6,349.1 581.2,355.8 583.9,362.7 586.8,370.0 590.1,377.9 593.9,386.5 597.8,395.3 601.6,404.1 605.2,412.4 608.3,420.0 610.9,426.7 613.1,432.9 615.1,438.6 616.9,444.1 618.6,449.5 620.3,455.0 622.0,460.7 623.7,466.4 625.3,472.1 626.8,477.5 628.1,482.5 629.3,487.0 630.3,490.9 631.1,494.2 631.8,497.2 632.4,499.9 632.9,502.5 633.4,505.0 633.8,507.5 634.1,510.0 634.3,512.4 634.4,514.5 634.5,516.2 634.6,517.5" fill="none" stroke="#0a0a0a" stroke-width="1.0" stroke-linejoin="round" stroke-dasharray="3 1.5 1 1.5" />
<polyline points="532.2,235.3 534.1,240.9 536.2,246.5 538.3,252.2 540.4,258.0 542.6,263.9 544.8,269.9 547.0,275.9 549.3,281.9 551.6,288.0 554.0,294.0 556.4,300.0 558.8,305.9 561.3,311.8 563.8,317.7 566.4,323.8 568.9,330.0 571.4,336.3 573.8,342.7 576.2,349.1 578.8,355.8 581.5,362.7 584.4,370.0 587.7,377.9 591.5,386.5 595.4,395.3 599.2,404.1 602.8,412.4 605.9,420.0 608.5,426.7 610.7,432.9 612.7,438.6 614.5,444.1 616.2,449.5 617.9,455.0 619.6,460.7 621.3,466.4 622.9,472.1 624.4,477.5 625.7,482.5 626.9,487.0 627.9,490.9 628.7,494.2 629.4,497.2 630.0,499.9 630.5,502.5 631.0,505.0 631.4,507.5 631.7,510.0 631.9,512.4 632.0,514.5 632.1,516.2 632.2,517.5" fill="none" stroke="#0a0a0a" stroke-width="1.0" stroke-linejoin="round" stroke-dasharray="3 1.5 1 1.5" />
<polyline points="529.8,235.3 531.7,240.9 533.8,246.5 535.9,252.2 538.0,258.0 540.2,263.9 542.4,269.9 544.6,275.9 546.9,281.9 549.2,288.0 551.6,294.0 554.0,300.0 556.4,305.9 558.9,311.8 561.4,317.7 564.0,323.8 566.5,330.0 569.0,336.3 571.4,342.7 573.8,349.1 576.4,355.8 579.1,362.7 582.0,370.0 585.3,377.9 589.1,386.5 593.0,395.3 596.8,404.1 600.4,412.4 603.5,420.0 606.1,426.7 608.3,432.9 610.3,438.6 612.1,444.1 613.8,449.5 615.5,455.0 617.2,460.7 618.9,466.4 620.5,472.1 622.0,477.5 623.3,482.5 624.5,487.0 625.5,490.9 626.3,494.2 627.0,497.2 627.6,499.9 628.1,502.5 628.6,505.0 629.0,507.5 629.3,510.0 629.5,512.4 629.6,514.5 629.7,516.2 629.8,517.5" fill="none" stroke="#0a0a0a" stroke-width="1.0" stroke-linejoin="round" stroke-dasharray="3 1.5 1 1.5" />
</g>
<line x1="381.8" y1="123.9" x2="564.0" y2="123.9" stroke="#0a0a0a" stroke-width="1.4" stroke-dasharray="6.1 4.3"/>
<line x1="470.9" y1="294.1" x2="620.0" y2="294.1" stroke="#0a0a0a" stroke-width="1.4" stroke-dasharray="6.1 4.3"/>
<line x1="573.0" y1="487.4" x2="672.6" y2="487.4" stroke="#0a0a0a" stroke-width="1.4" stroke-dasharray="6.1 4.3"/>
<text x="365.2" y="144.8" font-size="14.9" font-weight="bold" fill="#111">15%</text>
<text x="450.4" y="315.2" font-size="14.9" font-weight="bold" fill="#111">50%</text>
<text x="553.5" y="507.6" font-size="14.9" font-weight="bold" fill="#111">90%</text>
<rect x="397.5" y="2.6" width="8.1" height="9.2" fill="#f0483c"/>
<rect x="405.6" y="2.6" width="8.1" height="9.2" fill="#f4f43a"/>
<rect x="413.7" y="2.6" width="8.1" height="9.2" fill="#3ce03c"/>
<rect x="421.8" y="2.6" width="8.1" height="9.2" fill="#2a2ac8"/>
<line x1="397.5" y1="2.4" x2="397.5" y2="11.8" stroke="#333" stroke-width="1"/>
<line x1="405.6" y1="2.4" x2="405.6" y2="11.8" stroke="#333" stroke-width="1"/>
<line x1="413.7" y1="2.4" x2="413.7" y2="11.8" stroke="#333" stroke-width="1"/>
<line x1="421.8" y1="2.4" x2="421.8" y2="11.8" stroke="#333" stroke-width="1"/>
<line x1="429.9" y1="2.4" x2="429.9" y2="11.8" stroke="#333" stroke-width="1"/>
<rect x="397.5" y="2.4" width="32.4" height="9.4" fill="none" stroke="#444" stroke-width="0.7"/>
<line x1="398.2" y1="22.9" x2="428" y2="22.9" stroke="#0a0a0a" stroke-width="1.2"/>
<line x1="398.2" y1="37.4" x2="428" y2="37.4" stroke="#0a0a0a" stroke-width="1.2" stroke-dasharray="5 2 1.2 2"/>
<text x="439.0" y="11.8" font-size="14.8" font-weight="bold" fill="#111">TAU</text>
<text x="439.0" y="27.4" font-size="14.8" font-weight="bold" fill="#111">Isomap+I</text>
<text x="439.0" y="42.0" font-size="14.8" font-weight="bold" fill="#111">POD+I</text>
<rect x="620" y="84.0" width="18.6" height="7.4" fill="#ff0000"/>
<rect x="620" y="91.1" width="18.6" height="14.7" fill="#ff9000"/>
<rect x="620" y="105.5" width="18.6" height="14.4" fill="#e6ff00"/>
<rect x="620" y="119.6" width="18.6" height="14.9" fill="#48ff00"/>
<rect x="620" y="134.2" width="18.6" height="14.4" fill="#00ff48"/>
<rect x="620" y="148.3" width="18.6" height="14.9" fill="#00ffe0"/>
<rect x="620" y="162.9" width="18.6" height="14.4" fill="#0090ff"/>
<rect x="620" y="177.0" width="18.6" height="8.0" fill="#0000b8"/>
<line x1="620" y1="91.1" x2="638.6" y2="91.1" stroke="#333" stroke-width="0.6" opacity="0.7"/>
<line x1="620" y1="105.5" x2="638.6" y2="105.5" stroke="#333" stroke-width="0.6" opacity="0.7"/>
<line x1="620" y1="119.6" x2="638.6" y2="119.6" stroke="#333" stroke-width="0.6" opacity="0.7"/>
<line x1="620" y1="134.2" x2="638.6" y2="134.2" stroke="#333" stroke-width="0.6" opacity="0.7"/>
<line x1="620" y1="148.3" x2="638.6" y2="148.3" stroke="#333" stroke-width="0.6" opacity="0.7"/>
<line x1="620" y1="162.9" x2="638.6" y2="162.9" stroke="#333" stroke-width="0.6" opacity="0.7"/>
<line x1="620" y1="177.0" x2="638.6" y2="177.0" stroke="#333" stroke-width="0.6" opacity="0.7"/>
<rect x="620" y="84" width="18.6" height="100.7" fill="none" stroke="#555" stroke-width="0.5" opacity="0.6"/>
<text x="673.8" y="97.3" font-size="11.8" text-anchor="end" fill="#222">1.00</text>
<text x="673.8" y="111.7" font-size="11.8" text-anchor="end" fill="#222">0.60</text>
<text x="673.8" y="125.8" font-size="11.8" text-anchor="end" fill="#222">0.20</text>
<text x="673.8" y="140.1" font-size="11.8" text-anchor="end" fill="#222">-0.20</text>
<text x="673.8" y="154.5" font-size="11.8" text-anchor="end" fill="#222">-0.60</text>
<text x="673.8" y="168.8" font-size="11.8" text-anchor="end" fill="#222">-1.00</text>
<text x="673.8" y="183.9" font-size="11.8" text-anchor="end" fill="#222">-1.40</text>
<text x="661.2" y="67.8" font-size="12.6" text-anchor="middle" fill="#222">cp</text>
<line x1="403.2" y1="388" x2="403.2" y2="448.5" stroke="#111" stroke-width="1.4"/>
<line x1="402.6" y1="448" x2="463" y2="448" stroke="#111" stroke-width="1.4"/>
<polyline points="403.2,430.4 421.6,430.4 421.6,448" fill="none" stroke="#777" stroke-width="0.8"/>
<text x="403.5" y="379.8" font-size="14.2" text-anchor="middle" fill="#222">Y</text>
<text x="476.9" y="452.8" font-size="14.2" text-anchor="middle" fill="#222">X</text>
<path d="M399.6 445.6 H402 M404.4 449.4 L399.4 453 H405.6" fill="none" stroke="#222" stroke-width="1.1"/>
</svg>
</body></html>
